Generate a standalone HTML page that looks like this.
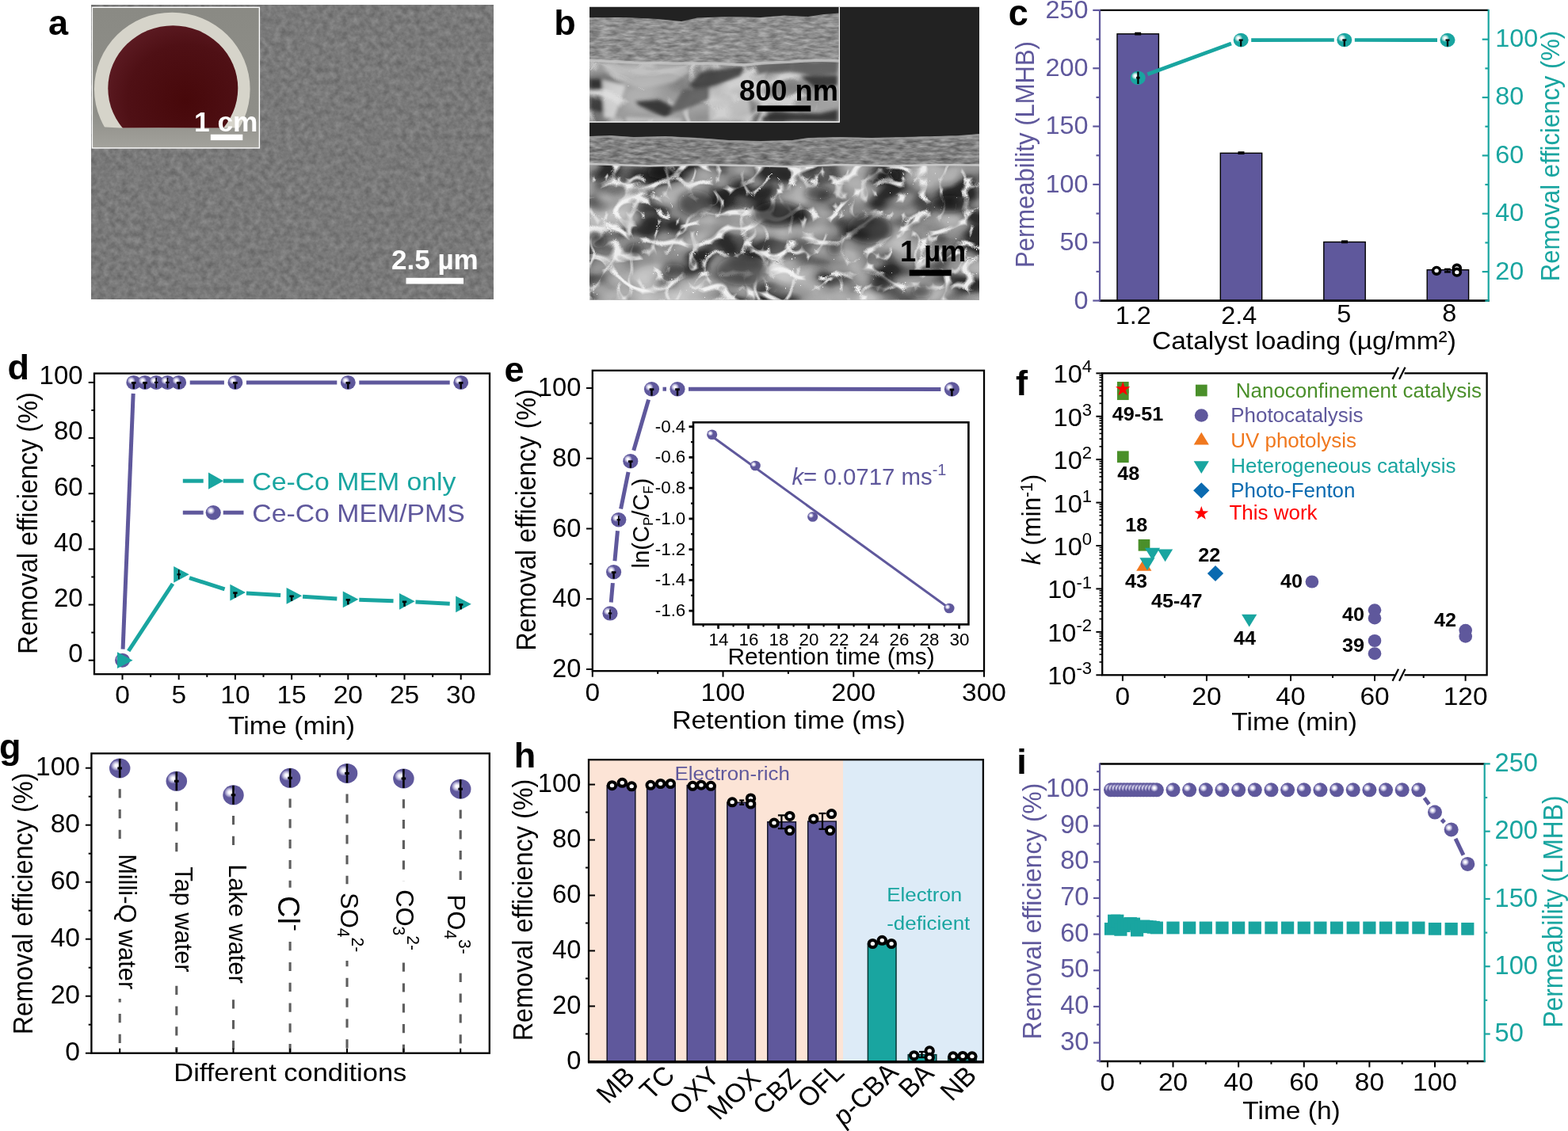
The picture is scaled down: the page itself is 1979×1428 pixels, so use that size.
<!DOCTYPE html>
<html lang="en"><head><meta charset="utf-8"><title>Figure</title>
<style>
html,body{margin:0;padding:0;background:#fff;}
body{width:1979px;height:1428px;overflow:hidden;}
svg{display:block;font-family:'Liberation Sans', Arial, sans-serif;}
</style></head><body>
<svg width="1979" height="1428" viewBox="0 0 1979 1428">

<defs>
<radialGradient id="bp" cx="0.335" cy="0.365" r="0.27" fx="0.335" fy="0.365">
 <stop offset="0" stop-color="#ffffff"/><stop offset="0.22" stop-color="#fbfbfe"/><stop offset="0.42" stop-color="#dedcef"/><stop offset="0.66" stop-color="#b3afd5"/><stop offset="0.86" stop-color="#847eb6"/><stop offset="1" stop-color="#5F589C"/>
</radialGradient>
<radialGradient id="bt" cx="0.335" cy="0.365" r="0.27" fx="0.335" fy="0.365">
 <stop offset="0" stop-color="#ffffff"/><stop offset="0.22" stop-color="#fbfefe"/><stop offset="0.42" stop-color="#d5efee"/><stop offset="0.66" stop-color="#98d6d3"/><stop offset="0.86" stop-color="#52bbb7"/><stop offset="1" stop-color="#19A5A0"/>
</radialGradient>
<radialGradient id="disc" cx="0.6" cy="0.6" r="0.75">
 <stop offset="0" stop-color="#47080a"/><stop offset="0.6" stop-color="#4f1015"/><stop offset="1" stop-color="#622029"/>
</radialGradient>
<linearGradient id="insbg" x1="0" y1="0" x2="0" y2="1">
 <stop offset="0" stop-color="#8a8a84"/><stop offset="0.75" stop-color="#8e8e88"/><stop offset="1" stop-color="#a3a29c"/>
</linearGradient>
<filter id="semA" x="0" y="0" width="100%" height="100%" color-interpolation-filters="sRGB">
 <feTurbulence type="fractalNoise" baseFrequency="0.13" numOctaves="3" seed="7" result="n"/>
 <feColorMatrix in="n" type="matrix" values="0.2 0 0 0 0.375  0.2 0 0 0 0.375  0.2 0 0 0 0.375  0 0 0 0 1"/>
</filter>
<filter id="semB" x="0" y="0" width="100%" height="100%" color-interpolation-filters="sRGB">
 <feTurbulence type="fractalNoise" baseFrequency="0.02 0.03" numOctaves="2" seed="5" result="n1"/>
 <feColorMatrix in="n1" type="matrix" values="1 0 0 0 0  1 0 0 0 0  1 0 0 0 0  0 0 0 0 1" result="g1"/>
 <feComponentTransfer in="g1" result="base">
  <feFuncR type="table" tableValues="0.1 0.12 0.14 0.18 0.34 0.52 0.6 0.68 0.72 0.75 0.78"/>
  <feFuncG type="table" tableValues="0.1 0.12 0.14 0.18 0.34 0.52 0.6 0.68 0.72 0.75 0.78"/>
  <feFuncB type="table" tableValues="0.1 0.12 0.14 0.18 0.34 0.52 0.6 0.68 0.72 0.75 0.78"/>
 </feComponentTransfer>
 <feTurbulence type="turbulence" baseFrequency="0.018 0.026" numOctaves="2" seed="23" result="n2"/>
 <feColorMatrix in="n2" type="matrix" values="0 0 0 0 0.93  0 0 0 0 0.93  0 0 0 0 0.93  -9 0 0 0 1.5" result="veins"/>
 <feTurbulence type="turbulence" baseFrequency="0.032 0.022" numOctaves="2" seed="41" result="n3"/>
 <feColorMatrix in="n3" type="matrix" values="0 0 0 0 0.82  0 0 0 0 0.82  0 0 0 0 0.82  0 -10 0 0 1.3" result="veins2"/>
 <feMerge><feMergeNode in="base"/><feMergeNode in="veins2"/><feMergeNode in="veins"/></feMerge>
</filter>
<filter id="semB2" x="0" y="0" width="100%" height="100%" color-interpolation-filters="sRGB">
 <feTurbulence type="fractalNoise" baseFrequency="0.011 0.02" numOctaves="2" seed="9" result="n1"/>
 <feColorMatrix in="n1" type="matrix" values="1 0 0 0 0  1 0 0 0 0  1 0 0 0 0  0 0 0 0 1" result="g1"/>
 <feComponentTransfer in="g1" result="base">
  <feFuncR type="table" tableValues="0.1 0.12 0.14 0.18 0.34 0.52 0.6 0.68 0.72 0.75 0.78"/>
  <feFuncG type="table" tableValues="0.1 0.12 0.14 0.18 0.34 0.52 0.6 0.68 0.72 0.75 0.78"/>
  <feFuncB type="table" tableValues="0.1 0.12 0.14 0.18 0.34 0.52 0.6 0.68 0.72 0.75 0.78"/>
 </feComponentTransfer>
 <feTurbulence type="turbulence" baseFrequency="0.009 0.016" numOctaves="2" seed="31" result="n2"/>
 <feColorMatrix in="n2" type="matrix" values="0 0 0 0 0.93  0 0 0 0 0.93  0 0 0 0 0.93  -9 0 0 0 1.5" result="veins"/>
 <feTurbulence type="turbulence" baseFrequency="0.016 0.012" numOctaves="2" seed="41" result="n3"/>
 <feColorMatrix in="n3" type="matrix" values="0 0 0 0 0.82  0 0 0 0 0.82  0 0 0 0 0.82  0 -10 0 0 1.3" result="veins2"/>
 <feMerge><feMergeNode in="base"/><feMergeNode in="veins2"/><feMergeNode in="veins"/></feMerge>
</filter>
<filter id="semC" x="0" y="0" width="100%" height="100%" color-interpolation-filters="sRGB">
 <feTurbulence type="fractalNoise" baseFrequency="0.07 0.26" numOctaves="3" seed="3" result="n"/>
 <feColorMatrix in="n" type="matrix" values="0.45 0 0 0 0.285  0.45 0 0 0 0.285  0.45 0 0 0 0.285  0 0 0 0 1" result="g"/>
 <feComposite in="g" in2="SourceAlpha" operator="in"/>
</filter>
<filter id="blur8" x="-50%" y="-50%" width="200%" height="200%"><feGaussianBlur stdDeviation="14"/></filter>
<filter id="blur5" x="-50%" y="-50%" width="200%" height="200%"><feGaussianBlur stdDeviation="4"/></filter>
<filter id="blur2" x="-20%" y="-20%" width="140%" height="140%"><feGaussianBlur stdDeviation="2.2"/></filter>
</defs>

<g id="pa">
<text transform="translate(61,43.7)" font-size="45" font-weight="bold">a</text>
<rect x="115" y="6.3" width="507.3" height="371.7" fill="#7b7b7b" filter="url(#semA)"/>
<clipPath id="insA"><rect x="116.5" y="9.4" width="210.8" height="177.4"/></clipPath>
<rect x="116.5" y="9.4" width="210.8" height="177.4" fill="url(#insbg)"/>
<g clip-path="url(#insA)">
<clipPath id="cutA"><path d="M100 0H340V160.4L290 161.6 200 161.3 152 161.6 133 160.4 100 158Z"/></clipPath>
<g clip-path="url(#cutA)">
<ellipse cx="217.3" cy="112.5" rx="98.3" ry="96.8" fill="#d6d4ca"/>
<ellipse cx="218.3" cy="111.5" rx="82" ry="79.2" fill="url(#disc)"/>
</g>
</g>
<rect x="116.4" y="9.3" width="211" height="177.6" fill="none" stroke="#fff" stroke-width="1.4"/>
<text transform="translate(245,165.8) scale(0.98,1)" font-size="36" fill="#fff" font-weight="bold">1 cm</text>
<rect x="265.8" y="169.7" width="40.5" height="7.4" fill="#fff"/>
<text transform="translate(494,339.5)" font-size="35" fill="#fff" font-weight="bold">2.5 µm</text>
<rect x="512.5" y="350.8" width="72.5" height="7.7" fill="#fff"/>
</g>
<g id="pb">
<text transform="translate(699.3,44)" font-size="45" font-weight="bold">b</text>
<rect x="744" y="8.8" width="492" height="369.6" fill="#222222"/>
<clipPath id="mainB"><rect x="744" y="8.8" width="492" height="369.6"/></clipPath>
<g clip-path="url(#mainB)">
<rect x="744" y="204" width="492" height="175" fill="#5c5c5c" filter="url(#semB)"/>
<g filter="url(#blur8)">
<ellipse cx="772" cy="267" rx="28" ry="25" fill="#fff" opacity="0.45"/>
<ellipse cx="834.5" cy="368.5" rx="90.5" ry="16.5" fill="#fff" opacity="0.45"/>
<ellipse cx="988.5" cy="331.5" rx="23.5" ry="36.5" fill="#fff" opacity="0.35"/>
<ellipse cx="1118" cy="376" rx="118" ry="14" fill="#fff" opacity="0.3"/>
<ellipse cx="1147.5" cy="290" rx="27.5" ry="22" fill="#fff" opacity="0.25"/>
</g>
<g filter="url(#blur5)">
<ellipse cx="836.5" cy="217.5" rx="20.5" ry="8.5" fill="#111" opacity="0.6"/>
<ellipse cx="878" cy="256.5" rx="22" ry="16.5" fill="#111" opacity="0.55"/>
<ellipse cx="981.5" cy="270" rx="31.5" ry="16" fill="#111" opacity="0.7"/>
<ellipse cx="1097" cy="289" rx="28" ry="19" fill="#111" opacity="0.65"/>
<ellipse cx="1199" cy="257.5" rx="24" ry="10.5" fill="#111" opacity="0.65"/>
<ellipse cx="937" cy="341.5" rx="33" ry="19.5" fill="#111" opacity="0.55"/>
<ellipse cx="1114.5" cy="221.5" rx="20.5" ry="9.5" fill="#111" opacity="0.45"/>
<ellipse cx="801.5" cy="315" rx="10.5" ry="8" fill="#111" opacity="0.6"/>
<ellipse cx="754.5" cy="304" rx="10.5" ry="9" fill="#111" opacity="0.55"/>
<ellipse cx="850.5" cy="341.5" rx="14.5" ry="9.5" fill="#111" opacity="0.45"/>
<ellipse cx="1053.5" cy="314" rx="9.5" ry="9" fill="#111" opacity="0.55"/>
<ellipse cx="1112.5" cy="355.5" rx="13.5" ry="12.5" fill="#111" opacity="0.6"/>
<ellipse cx="1163" cy="368" rx="13" ry="8" fill="#111" opacity="0.55"/>
<ellipse cx="1032.5" cy="244" rx="17.5" ry="8" fill="#111" opacity="0.5"/>
<ellipse cx="935" cy="231" rx="15" ry="9" fill="#111" opacity="0.4"/>
</g>
<path d="M744 172 L770 171 800 173 840 172 880 174 920 177 960 178 1000 177 1020 174 1060 173 1100 174 1140 173 1180 172 1210 171 1236 169 V209 L1180 208 1120 210 1060 208 1000 211 940 209 880 208 820 210 744 207Z" fill="#808080" filter="url(#semC)"/>
<path d="M744 173.5 L770 172.5 800 174.5 840 173.5 880 175.5 920 178.5 960 179.5 1000 178.5 1020 175.5 1060 174.5 1100 175.5 1140 174.5 1180 173.5 1210 172.5 1236 170.5" fill="none" stroke="#a0a0a0" stroke-width="2.5" opacity="0.7"/>
<path d="M744 207 L820 209.5 880 208 940 209 1000 210.5 1060 208 1120 209.5 1180 208 1236 208.5" fill="none" stroke="#cfcfcf" stroke-width="2.6" opacity="0.85"/>
</g>
<clipPath id="insB"><rect x="744" y="8.8" width="314.6" height="144.6"/></clipPath>
<g clip-path="url(#insB)">
<rect x="744" y="8.8" width="315" height="145" fill="#222222"/>
<rect x="744" y="72" width="316" height="83" fill="#5c5c5c" filter="url(#semB2)"/>
<rect x="744" y="72" width="316" height="83" fill="#b0b0b0" opacity="0.45"/>
<g filter="url(#blur2)" opacity="0.88">
<path d="M760 84L800 80L860 80L872 90L850 104L810 112L790 106L770 96Z" fill="#bdbdbd" opacity="0.9"/>
<path d="M869.3 108.3L884.3 90.7L939.5 83.2L934.5 95.7L904.4 108.3L879.3 113.3Z" fill="#3a3a3a" opacity="1"/>
<path d="M952 83.2L969.6 75.7L994.6 74.4L1027.2 78.2L1057.3 74.4L1057.3 93.2L1027.2 95.7L994.6 90.7L957 93.2Z" fill="#5a5a5a" opacity="1"/>
<path d="M744 99.5L766.6 100.7L769 110.8L744 113.3Z" fill="#2a2a2a" opacity="1"/>
<path d="M801.6 128.3L831.7 125.8L856.8 138.3L839.2 148.4L806.7 133.3Z" fill="#2a2a2a" opacity="1"/>
<path d="M744 120.8L764 128.3L766.6 143.3L744 138.3Z" fill="#353535" opacity="1"/>
<path d="M962 148.4L977 140.8L1034.7 143.3L1057.3 138.3L1057.3 153.4L962 153.4Z" fill="#2a2a2a" opacity="1"/>
<path d="M861.8 112.8L899.4 110.3L894.4 125.8L864.3 138.3L844.2 143.3Z" fill="#5a5a5a" opacity="1"/>
<path d="M1010 96L1057 95L1057 108L1030 112Z" fill="#2e2e2e" opacity="1"/>
<path d="M760 100L790 108L775 150L762 148Z" fill="#e0e0e0" opacity="0.9"/>
<path d="M895 112L940 100L950 153L895 153Z" fill="#d0d0d0" opacity="0.85"/>
<path d="M790 148L860 150L860 154L790 154Z" fill="#cfcfcf" opacity="0.9"/>
</g>
<path d="M744 22 L790 22 830 24 860 27 880 22.5 920 21 960 22 990 19.5 1020 21 1040 18 1059 16.5 V77 L1030 76 1000 78 960 80 940 82 900 80 850 80 800 79 744 76Z" fill="#8e8e8e" filter="url(#semC)"/>
<path d="M744 22 L790 22 830 24 860 27 880 22.5 920 21 960 22 990 19.5 1020 21 1040 18 1059 16.5 V77 L1030 76 1000 78 960 80 940 82 900 80 850 80 800 79 744 76Z" fill="#fff" opacity="0.1"/>
<path d="M744 76 L800 79 850 80 900 80 940 82 960 80 1000 78 1030 76 1059 77" fill="none" stroke="#c8c8c8" stroke-width="3.5" opacity="0.8"/>
</g>
<path d="M744 154 H1059.3 V8.8" fill="none" stroke="#fff" stroke-width="1.3"/>
<text transform="translate(933,126.7) scale(0.98,1)" font-size="37" font-weight="bold">800 nm</text>
<rect x="955.7" y="133.3" width="67.6" height="7.4" fill="#000"/>
<text transform="translate(1136,330) scale(0.98,1)" font-size="37" font-weight="bold">1 µm</text>
<rect x="1147.7" y="340.7" width="53" height="7.6" fill="#000"/>
</g>
<g id="pc">
<text transform="translate(1272.7,32.2) scale(1,1.03)" font-size="45" font-weight="bold">c</text>
<rect x="1410" y="42.82" width="52.4" height="336.78" fill="#5F589C" stroke="#000" stroke-width="1.4"/>
<rect x="1540.3" y="193.32" width="52.4" height="186.28" fill="#5F589C" stroke="#000" stroke-width="1.4"/>
<rect x="1670.8" y="305.53" width="52.4" height="74.07" fill="#5F589C" stroke="#000" stroke-width="1.4"/>
<rect x="1801.2" y="340.73" width="52.4" height="38.87" fill="#5F589C" stroke="#000" stroke-width="1.4"/>
<line x1="1432.2" y1="42.62" x2="1440.2" y2="42.62" stroke="#000" stroke-width="3.8"/>
<line x1="1562.5" y1="193.12" x2="1570.5" y2="193.12" stroke="#000" stroke-width="3.8"/>
<line x1="1693" y1="305.33" x2="1701" y2="305.33" stroke="#000" stroke-width="3.8"/>
<line x1="1388" y1="12.9" x2="1878.7" y2="12.9" stroke="#000" stroke-width="2.2"/>
<line x1="1387" y1="379.6" x2="1879.7" y2="379.6" stroke="#000" stroke-width="2.6"/>
<line x1="1388" y1="11.9" x2="1388" y2="380.6" stroke="#5F589C" stroke-width="2.2"/>
<line x1="1878.7" y1="11.9" x2="1878.7" y2="380.6" stroke="#19A5A0" stroke-width="2.2"/>
<line x1="1379.3" y1="379.6" x2="1388" y2="379.6" stroke="#5F589C" stroke-width="2.2"/>
<text transform="translate(1373.5,389.5) scale(1.08,1.03)" font-size="30" text-anchor="end" fill="#5F589C">0</text>
<line x1="1383.5" y1="342.93" x2="1388" y2="342.93" stroke="#5F589C" stroke-width="2.2"/>
<line x1="1379.3" y1="306.26" x2="1388" y2="306.26" stroke="#5F589C" stroke-width="2.2"/>
<text transform="translate(1373.5,316.16) scale(1.08,1.03)" font-size="30" text-anchor="end" fill="#5F589C">50</text>
<line x1="1383.5" y1="269.59" x2="1388" y2="269.59" stroke="#5F589C" stroke-width="2.2"/>
<line x1="1379.3" y1="232.92" x2="1388" y2="232.92" stroke="#5F589C" stroke-width="2.2"/>
<text transform="translate(1373.5,242.82) scale(1.08,1.03)" font-size="30" text-anchor="end" fill="#5F589C">100</text>
<line x1="1383.5" y1="196.25" x2="1388" y2="196.25" stroke="#5F589C" stroke-width="2.2"/>
<line x1="1379.3" y1="159.58" x2="1388" y2="159.58" stroke="#5F589C" stroke-width="2.2"/>
<text transform="translate(1373.5,169.48) scale(1.08,1.03)" font-size="30" text-anchor="end" fill="#5F589C">150</text>
<line x1="1383.5" y1="122.91" x2="1388" y2="122.91" stroke="#5F589C" stroke-width="2.2"/>
<line x1="1379.3" y1="86.24" x2="1388" y2="86.24" stroke="#5F589C" stroke-width="2.2"/>
<text transform="translate(1373.5,96.14) scale(1.08,1.03)" font-size="30" text-anchor="end" fill="#5F589C">200</text>
<line x1="1383.5" y1="49.57" x2="1388" y2="49.57" stroke="#5F589C" stroke-width="2.2"/>
<line x1="1379.3" y1="12.9" x2="1388" y2="12.9" stroke="#5F589C" stroke-width="2.2"/>
<text transform="translate(1373.5,22.8) scale(1.08,1.03)" font-size="30" text-anchor="end" fill="#5F589C">250</text>
<line x1="1874.4" y1="379.77" x2="1878.7" y2="379.77" stroke="#19A5A0" stroke-width="2.2"/>
<line x1="1870.7" y1="343.1" x2="1878.7" y2="343.1" stroke="#19A5A0" stroke-width="2.2"/>
<text transform="translate(1887.3,352.5) scale(1.08,1.03)" font-size="30" fill="#19A5A0">20</text>
<line x1="1874.4" y1="306.43" x2="1878.7" y2="306.43" stroke="#19A5A0" stroke-width="2.2"/>
<line x1="1870.7" y1="269.75" x2="1878.7" y2="269.75" stroke="#19A5A0" stroke-width="2.2"/>
<text transform="translate(1887.3,279.15) scale(1.08,1.03)" font-size="30" fill="#19A5A0">40</text>
<line x1="1874.4" y1="233.07" x2="1878.7" y2="233.07" stroke="#19A5A0" stroke-width="2.2"/>
<line x1="1870.7" y1="196.4" x2="1878.7" y2="196.4" stroke="#19A5A0" stroke-width="2.2"/>
<text transform="translate(1887.3,205.8) scale(1.08,1.03)" font-size="30" fill="#19A5A0">60</text>
<line x1="1874.4" y1="159.73" x2="1878.7" y2="159.73" stroke="#19A5A0" stroke-width="2.2"/>
<line x1="1870.7" y1="123.05" x2="1878.7" y2="123.05" stroke="#19A5A0" stroke-width="2.2"/>
<text transform="translate(1887.3,132.45) scale(1.08,1.03)" font-size="30" fill="#19A5A0">80</text>
<line x1="1874.4" y1="86.38" x2="1878.7" y2="86.38" stroke="#19A5A0" stroke-width="2.2"/>
<line x1="1870.7" y1="49.7" x2="1878.7" y2="49.7" stroke="#19A5A0" stroke-width="2.2"/>
<text transform="translate(1887.3,59.1) scale(1.08,1.03)" font-size="30" fill="#19A5A0">100</text>
<line x1="1448.41" y1="93.73" x2="1553.99" y2="55.07" stroke="#19A5A0" stroke-width="4.7"/><line x1="1579.2" y1="50.59" x2="1683.8" y2="50.51" stroke="#19A5A0" stroke-width="4.7"/><line x1="1709.8" y1="50.51" x2="1814" y2="50.59" stroke="#19A5A0" stroke-width="4.7"/>
<ellipse cx="1436.2" cy="98.2" rx="9.5" ry="8.8" fill="url(#bt)"/>
<ellipse cx="1566.2" cy="50.6" rx="9.5" ry="8.8" fill="url(#bt)"/>
<ellipse cx="1696.8" cy="50.5" rx="9.5" ry="8.8" fill="url(#bt)"/>
<ellipse cx="1827" cy="50.6" rx="9.5" ry="8.8" fill="url(#bt)"/>
<line x1="1436.4" y1="90.5" x2="1436.4" y2="106" stroke="#000" stroke-width="2.2"/>
<line x1="1434.2" y1="98.2" x2="1438.6" y2="98.2" stroke="#000" stroke-width="2.8"/>
<line x1="1566.2" y1="50.6" x2="1566.2" y2="58.6" stroke="#000" stroke-width="2.2"/>
<line x1="1563.7" y1="50.6" x2="1568.7" y2="50.6" stroke="#000" stroke-width="2.2"/>
<line x1="1696.8" y1="50.5" x2="1696.8" y2="58.5" stroke="#000" stroke-width="2.2"/>
<line x1="1694.3" y1="50.5" x2="1699.3" y2="50.5" stroke="#000" stroke-width="2.2"/>
<line x1="1827" y1="50.6" x2="1827" y2="58.6" stroke="#000" stroke-width="2.2"/>
<line x1="1824.5" y1="50.6" x2="1829.5" y2="50.6" stroke="#000" stroke-width="2.2"/>
<line x1="1826.8" y1="339.9" x2="1826.8" y2="343.2" stroke="#000" stroke-width="1.4"/>
<line x1="1823" y1="339.9" x2="1830.8" y2="339.9" stroke="#000" stroke-width="2.4"/>
<line x1="1823" y1="343.4" x2="1830.8" y2="343.4" stroke="#000" stroke-width="2.4"/>
<ellipse cx="1813.1" cy="341.8" rx="4.51" ry="4.3" fill="#fff" stroke="#000" stroke-width="3.6"/>
<ellipse cx="1838.8" cy="338.7" rx="4.51" ry="4.3" fill="#fff" stroke="#000" stroke-width="3.6"/>
<ellipse cx="1838.8" cy="343.7" rx="4.51" ry="4.3" fill="#fff" stroke="#000" stroke-width="3.6"/>
<text transform="translate(1430.3,408.7) scale(1.08,1.03)" font-size="30" text-anchor="middle">1.2</text>
<text transform="translate(1563.7,408.7) scale(1.08,1.03)" font-size="30" text-anchor="middle">2.4</text>
<text transform="translate(1696.3,406.6) scale(1.08,1.03)" font-size="30" text-anchor="middle">5</text>
<text transform="translate(1829.3,405.9) scale(1.08,1.03)" font-size="30" text-anchor="middle">8</text>
<text transform="translate(1646,441) scale(1.08,1.03)" font-size="31" text-anchor="middle">Catalyst loading (µg/mm²)</text>
<text transform="translate(1305,195) rotate(-90) scale(1,1.08)" font-size="31" text-anchor="middle" fill="#5F589C">Permeability (LMHB)</text>
<text transform="translate(1968,197) rotate(-90) scale(1,1.08)" font-size="31" text-anchor="middle" fill="#19A5A0">Removal efficiency (%)</text>
</g>
<g id="pd">
<text transform="translate(9.5,479.2)" font-size="45" font-weight="bold">d</text>
<rect x="119" y="471.5" width="499" height="379.7" fill="none" stroke="#000" stroke-width="2.3"/>
<line x1="111.7" y1="833.7" x2="119" y2="833.7" stroke="#000" stroke-width="2"/>
<text transform="translate(104.6,836.1) scale(1.05,1.03)" font-size="31.4" text-anchor="end">0</text>
<line x1="115.3" y1="798.62" x2="119" y2="798.62" stroke="#000" stroke-width="2"/>
<line x1="111.7" y1="763.54" x2="119" y2="763.54" stroke="#000" stroke-width="2"/>
<text transform="translate(104.6,765.94) scale(1.05,1.03)" font-size="31.4" text-anchor="end">20</text>
<line x1="115.3" y1="728.46" x2="119" y2="728.46" stroke="#000" stroke-width="2"/>
<line x1="111.7" y1="693.38" x2="119" y2="693.38" stroke="#000" stroke-width="2"/>
<text transform="translate(104.6,695.78) scale(1.05,1.03)" font-size="31.4" text-anchor="end">40</text>
<line x1="115.3" y1="658.3" x2="119" y2="658.3" stroke="#000" stroke-width="2"/>
<line x1="111.7" y1="623.22" x2="119" y2="623.22" stroke="#000" stroke-width="2"/>
<text transform="translate(104.6,625.62) scale(1.05,1.03)" font-size="31.4" text-anchor="end">60</text>
<line x1="115.3" y1="588.14" x2="119" y2="588.14" stroke="#000" stroke-width="2"/>
<line x1="111.7" y1="553.06" x2="119" y2="553.06" stroke="#000" stroke-width="2"/>
<text transform="translate(104.6,555.46) scale(1.05,1.03)" font-size="31.4" text-anchor="end">80</text>
<line x1="115.3" y1="517.98" x2="119" y2="517.98" stroke="#000" stroke-width="2"/>
<line x1="111.7" y1="482.9" x2="119" y2="482.9" stroke="#000" stroke-width="2"/>
<text transform="translate(104.6,485.3) scale(1.05,1.03)" font-size="31.4" text-anchor="end">100</text>
<line x1="154.5" y1="851.2" x2="154.5" y2="858.2" stroke="#000" stroke-width="2"/>
<text transform="translate(154.5,888.3) scale(1.08,1.03)" font-size="31" text-anchor="middle">0</text>
<line x1="190.1" y1="851.2" x2="190.1" y2="854.9" stroke="#000" stroke-width="2"/>
<line x1="225.7" y1="851.2" x2="225.7" y2="858.2" stroke="#000" stroke-width="2"/>
<text transform="translate(225.7,888.3) scale(1.08,1.03)" font-size="31" text-anchor="middle">5</text>
<line x1="261.3" y1="851.2" x2="261.3" y2="854.9" stroke="#000" stroke-width="2"/>
<line x1="296.9" y1="851.2" x2="296.9" y2="858.2" stroke="#000" stroke-width="2"/>
<text transform="translate(296.9,888.3) scale(1.08,1.03)" font-size="31" text-anchor="middle">10</text>
<line x1="332.5" y1="851.2" x2="332.5" y2="854.9" stroke="#000" stroke-width="2"/>
<line x1="368.1" y1="851.2" x2="368.1" y2="858.2" stroke="#000" stroke-width="2"/>
<text transform="translate(368.1,888.3) scale(1.08,1.03)" font-size="31" text-anchor="middle">15</text>
<line x1="403.7" y1="851.2" x2="403.7" y2="854.9" stroke="#000" stroke-width="2"/>
<line x1="439.3" y1="851.2" x2="439.3" y2="858.2" stroke="#000" stroke-width="2"/>
<text transform="translate(439.3,888.3) scale(1.08,1.03)" font-size="31" text-anchor="middle">20</text>
<line x1="474.9" y1="851.2" x2="474.9" y2="854.9" stroke="#000" stroke-width="2"/>
<line x1="510.5" y1="851.2" x2="510.5" y2="858.2" stroke="#000" stroke-width="2"/>
<text transform="translate(510.5,888.3) scale(1.08,1.03)" font-size="31" text-anchor="middle">25</text>
<line x1="546.1" y1="851.2" x2="546.1" y2="854.9" stroke="#000" stroke-width="2"/>
<line x1="581.7" y1="851.2" x2="581.7" y2="858.2" stroke="#000" stroke-width="2"/>
<text transform="translate(581.7,888.3) scale(1.08,1.03)" font-size="31" text-anchor="middle">30</text>
<text transform="translate(368,926.5) scale(1.09,1.03)" font-size="31" text-anchor="middle">Time (min)</text>
<text transform="translate(47.3,660.6) rotate(-90) scale(1,1.07)" font-size="32.4" text-anchor="middle">Removal efficiency (%)</text>
<line x1="155.07" y1="819.71" x2="168.17" y2="496.89" stroke="#5F589C" stroke-width="5"/><line x1="239.7" y1="482.9" x2="282.9" y2="482.9" stroke="#5F589C" stroke-width="5"/><line x1="310.9" y1="482.9" x2="425.3" y2="482.9" stroke="#5F589C" stroke-width="5"/><line x1="453.3" y1="482.9" x2="567.7" y2="482.9" stroke="#5F589C" stroke-width="5"/>
<line x1="162.19" y1="822" x2="218.01" y2="737" stroke="#19A5A0" stroke-width="5"/><line x1="239.03" y1="729.57" x2="283.57" y2="743.83" stroke="#19A5A0" stroke-width="5"/><line x1="310.88" y1="748.93" x2="354.12" y2="751.49" stroke="#19A5A0" stroke-width="5"/><line x1="382.07" y1="753.21" x2="425.33" y2="755.98" stroke="#19A5A0" stroke-width="5"/><line x1="453.29" y1="757.36" x2="496.51" y2="758.85" stroke="#19A5A0" stroke-width="5"/><line x1="524.48" y1="760.02" x2="567.72" y2="762.15" stroke="#19A5A0" stroke-width="5"/>
<ellipse cx="154.5" cy="833.7" rx="9.45" ry="9" fill="url(#bp)"/>
<ellipse cx="168.74" cy="482.9" rx="9.45" ry="9" fill="url(#bp)"/>
<ellipse cx="182.98" cy="482.9" rx="9.45" ry="9" fill="url(#bp)"/>
<ellipse cx="197.22" cy="482.9" rx="9.45" ry="9" fill="url(#bp)"/>
<ellipse cx="211.46" cy="482.9" rx="9.45" ry="9" fill="url(#bp)"/>
<ellipse cx="225.7" cy="482.9" rx="9.45" ry="9" fill="url(#bp)"/>
<ellipse cx="296.9" cy="482.9" rx="9.45" ry="9" fill="url(#bp)"/>
<ellipse cx="439.3" cy="482.9" rx="9.45" ry="9" fill="url(#bp)"/>
<ellipse cx="581.7" cy="482.9" rx="9.45" ry="9" fill="url(#bp)"/>
<path d="M147.97 823.3L167.57 833.7L147.97 844.1Z" fill="#19A5A0"/>
<path d="M219.17 714.9L238.77 725.3L219.17 735.7Z" fill="#19A5A0"/>
<path d="M290.37 737.7L309.97 748.1L290.37 758.5Z" fill="#19A5A0"/>
<path d="M361.57 741.91L381.17 752.31L361.57 762.71Z" fill="#19A5A0"/>
<path d="M432.77 746.47L452.37 756.87L432.77 767.27Z" fill="#19A5A0"/>
<path d="M503.97 748.93L523.57 759.33L503.97 769.73Z" fill="#19A5A0"/>
<path d="M575.17 752.44L594.77 762.84L575.17 773.24Z" fill="#19A5A0"/>
<line x1="168.74" y1="482.9" x2="168.74" y2="490.9" stroke="#000" stroke-width="2.4"/>
<line x1="165.94" y1="483.4" x2="171.54" y2="483.4" stroke="#000" stroke-width="2.8"/>
<line x1="182.98" y1="482.9" x2="182.98" y2="490.9" stroke="#000" stroke-width="2.4"/>
<line x1="180.18" y1="483.4" x2="185.78" y2="483.4" stroke="#000" stroke-width="2.8"/>
<line x1="197.22" y1="476.9" x2="197.22" y2="489.9" stroke="#000" stroke-width="1.6"/>
<line x1="195.02" y1="482.9" x2="199.42" y2="482.9" stroke="#000" stroke-width="2.2"/>
<line x1="211.46" y1="476.9" x2="211.46" y2="489.9" stroke="#000" stroke-width="1.6"/>
<line x1="209.26" y1="482.9" x2="213.66" y2="482.9" stroke="#000" stroke-width="2.2"/>
<line x1="225.7" y1="482.9" x2="225.7" y2="490.9" stroke="#000" stroke-width="2.4"/>
<line x1="222.9" y1="483.4" x2="228.5" y2="483.4" stroke="#000" stroke-width="2.8"/>
<line x1="296.9" y1="482.9" x2="296.9" y2="490.9" stroke="#000" stroke-width="2.4"/>
<line x1="294.1" y1="483.4" x2="299.7" y2="483.4" stroke="#000" stroke-width="2.8"/>
<line x1="439.3" y1="482.9" x2="439.3" y2="490.9" stroke="#000" stroke-width="2.4"/>
<line x1="436.5" y1="483.4" x2="442.1" y2="483.4" stroke="#000" stroke-width="2.8"/>
<line x1="581.7" y1="482.9" x2="581.7" y2="490.9" stroke="#000" stroke-width="2.4"/>
<line x1="578.9" y1="483.4" x2="584.5" y2="483.4" stroke="#000" stroke-width="2.8"/>
<line x1="225.7" y1="719.3" x2="225.7" y2="731.3" stroke="#000" stroke-width="1.6"/>
<line x1="223.5" y1="725.3" x2="227.9" y2="725.3" stroke="#000" stroke-width="2.2"/>
<line x1="296.9" y1="748.1" x2="296.9" y2="754.6" stroke="#000" stroke-width="2.4"/>
<line x1="294.2" y1="748.6" x2="299.6" y2="748.6" stroke="#000" stroke-width="2.6"/>
<line x1="368.1" y1="752.31" x2="368.1" y2="758.81" stroke="#000" stroke-width="2.4"/>
<line x1="365.4" y1="752.81" x2="370.8" y2="752.81" stroke="#000" stroke-width="2.6"/>
<line x1="439.3" y1="756.87" x2="439.3" y2="763.37" stroke="#000" stroke-width="2.4"/>
<line x1="436.6" y1="757.37" x2="442" y2="757.37" stroke="#000" stroke-width="2.6"/>
<line x1="510.5" y1="759.33" x2="510.5" y2="765.83" stroke="#000" stroke-width="2.4"/>
<line x1="507.8" y1="759.83" x2="513.2" y2="759.83" stroke="#000" stroke-width="2.6"/>
<line x1="581.7" y1="762.84" x2="581.7" y2="769.34" stroke="#000" stroke-width="2.4"/>
<line x1="579" y1="763.34" x2="584.4" y2="763.34" stroke="#000" stroke-width="2.6"/>
<line x1="230.8" y1="607.2" x2="256.7" y2="607.2" stroke="#19A5A0" stroke-width="5"/>
<line x1="281.7" y1="607.2" x2="307.5" y2="607.2" stroke="#19A5A0" stroke-width="5"/>
<line x1="230.8" y1="647.2" x2="256.7" y2="647.2" stroke="#5F589C" stroke-width="5"/>
<line x1="281.7" y1="647.2" x2="307.5" y2="647.2" stroke="#5F589C" stroke-width="5"/>
<path d="M262.97 596.55L281.97 607.2L262.97 617.85Z" fill="#19A5A0"/>
<ellipse cx="269.2" cy="647.2" rx="9.57" ry="9.2" fill="url(#bp)"/>
<text transform="translate(318.3,619.4) scale(1.09,1.03)" font-size="31" fill="#19A5A0">Ce-Co MEM only</text>
<text transform="translate(318.3,658.6) scale(1.09,1.03)" font-size="31" fill="#5F589C">Ce-Co MEM/PMS</text>
</g>
<g id="pe">
<text transform="translate(636.5,481.5)" font-size="45" font-weight="bold">e</text>
<rect x="747.8" y="467.8" width="494.2" height="379.4" fill="none" stroke="#000" stroke-width="2.3"/>
<line x1="740" y1="845" x2="747.8" y2="845" stroke="#000" stroke-width="2"/>
<text transform="translate(733.3,855) scale(1.04,1.03)" font-size="31.4" text-anchor="end">20</text>
<line x1="744.1" y1="800.62" x2="747.8" y2="800.62" stroke="#000" stroke-width="2"/>
<line x1="740" y1="756.25" x2="747.8" y2="756.25" stroke="#000" stroke-width="2"/>
<text transform="translate(733.3,766.25) scale(1.04,1.03)" font-size="31.4" text-anchor="end">40</text>
<line x1="744.1" y1="711.88" x2="747.8" y2="711.88" stroke="#000" stroke-width="2"/>
<line x1="740" y1="667.5" x2="747.8" y2="667.5" stroke="#000" stroke-width="2"/>
<text transform="translate(733.3,677.5) scale(1.04,1.03)" font-size="31.4" text-anchor="end">60</text>
<line x1="744.1" y1="623.12" x2="747.8" y2="623.12" stroke="#000" stroke-width="2"/>
<line x1="740" y1="578.75" x2="747.8" y2="578.75" stroke="#000" stroke-width="2"/>
<text transform="translate(733.3,588.75) scale(1.04,1.03)" font-size="31.4" text-anchor="end">80</text>
<line x1="744.1" y1="534.38" x2="747.8" y2="534.38" stroke="#000" stroke-width="2"/>
<line x1="740" y1="490" x2="747.8" y2="490" stroke="#000" stroke-width="2"/>
<text transform="translate(733.3,500) scale(1.04,1.03)" font-size="31.4" text-anchor="end">100</text>
<line x1="747.8" y1="847.2" x2="747.8" y2="854.7" stroke="#000" stroke-width="2"/>
<text transform="translate(747.8,884.7) scale(1.08,1.03)" font-size="31" text-anchor="middle">0</text>
<line x1="830.17" y1="847.2" x2="830.17" y2="850.9" stroke="#000" stroke-width="2"/>
<line x1="912.53" y1="847.2" x2="912.53" y2="854.7" stroke="#000" stroke-width="2"/>
<text transform="translate(912.53,884.7) scale(1.08,1.03)" font-size="31" text-anchor="middle">100</text>
<line x1="994.9" y1="847.2" x2="994.9" y2="850.9" stroke="#000" stroke-width="2"/>
<line x1="1077.27" y1="847.2" x2="1077.27" y2="854.7" stroke="#000" stroke-width="2"/>
<text transform="translate(1077.27,884.7) scale(1.08,1.03)" font-size="31" text-anchor="middle">200</text>
<line x1="1159.63" y1="847.2" x2="1159.63" y2="850.9" stroke="#000" stroke-width="2"/>
<line x1="1242" y1="847.2" x2="1242" y2="854.7" stroke="#000" stroke-width="2"/>
<text transform="translate(1242,884.7) scale(1.08,1.03)" font-size="31" text-anchor="middle">300</text>
<text transform="translate(995.5,919.5) scale(1.09,1.03)" font-size="31" text-anchor="middle">Retention time (ms)</text>
<text transform="translate(675.5,656.5) rotate(-90) scale(1,1.07)" font-size="32.4" text-anchor="middle">Removal efficiency (%)</text>
<line x1="771.23" y1="760.45" x2="773.37" y2="736.15" stroke="#5F589C" stroke-width="5"/><line x1="775.91" y1="708.26" x2="779.49" y2="670.24" stroke="#5F589C" stroke-width="5"/><line x1="783.58" y1="642.58" x2="793.02" y2="595.92" stroke="#5F589C" stroke-width="5"/><line x1="799.74" y1="568.77" x2="818.56" y2="504.63" stroke="#5F589C" stroke-width="5"/><line x1="836.5" y1="491.2" x2="841" y2="491.2" stroke="#5F589C" stroke-width="5"/><line x1="869" y1="491.21" x2="1187.4" y2="491.49" stroke="#5F589C" stroke-width="5"/>
<ellipse cx="770" cy="774.4" rx="9.57" ry="9.2" fill="url(#bp)"/>
<ellipse cx="774.6" cy="722.2" rx="9.57" ry="9.2" fill="url(#bp)"/>
<ellipse cx="780.8" cy="656.3" rx="9.57" ry="9.2" fill="url(#bp)"/>
<ellipse cx="795.8" cy="582.2" rx="9.57" ry="9.2" fill="url(#bp)"/>
<ellipse cx="822.5" cy="491.2" rx="9.57" ry="9.2" fill="url(#bp)"/>
<ellipse cx="855" cy="491.2" rx="9.57" ry="9.2" fill="url(#bp)"/>
<ellipse cx="1201.4" cy="491.5" rx="9.57" ry="9.2" fill="url(#bp)"/>
<line x1="770" y1="769.4" x2="770" y2="781.4" stroke="#000" stroke-width="1.6"/>
<line x1="767.8" y1="774.4" x2="772.2" y2="774.4" stroke="#000" stroke-width="2.2"/>
<line x1="774.6" y1="722.2" x2="774.6" y2="730.7" stroke="#000" stroke-width="2.4"/>
<line x1="771.8" y1="722.7" x2="777.4" y2="722.7" stroke="#000" stroke-width="2.8"/>
<line x1="780.8" y1="651.3" x2="780.8" y2="663.3" stroke="#000" stroke-width="1.6"/>
<line x1="778.6" y1="656.3" x2="783" y2="656.3" stroke="#000" stroke-width="2.2"/>
<line x1="795.8" y1="582.2" x2="795.8" y2="590.7" stroke="#000" stroke-width="2.4"/>
<line x1="793" y1="582.7" x2="798.6" y2="582.7" stroke="#000" stroke-width="2.8"/>
<line x1="822.5" y1="491.2" x2="822.5" y2="499.7" stroke="#000" stroke-width="2.4"/>
<line x1="819.7" y1="491.7" x2="825.3" y2="491.7" stroke="#000" stroke-width="2.8"/>
<line x1="855" y1="491.2" x2="855" y2="499.7" stroke="#000" stroke-width="2.4"/>
<line x1="852.2" y1="491.7" x2="857.8" y2="491.7" stroke="#000" stroke-width="2.8"/>
<line x1="1201.4" y1="491.5" x2="1201.4" y2="500" stroke="#000" stroke-width="2.4"/>
<line x1="1198.6" y1="492" x2="1204.2" y2="492" stroke="#000" stroke-width="2.8"/>
<rect x="875" y="533.3" width="347.4" height="255.1" fill="#fff" stroke="#000" stroke-width="2.6"/>
<line x1="869.5" y1="538.7" x2="875" y2="538.7" stroke="#000" stroke-width="2.8"/>
<text transform="translate(865.3,545.7) scale(1.04,1.03)" font-size="21.5" text-anchor="end">-0.4</text>
<line x1="872" y1="558.08" x2="875" y2="558.08" stroke="#000" stroke-width="2.2"/>
<line x1="869.5" y1="577.45" x2="875" y2="577.45" stroke="#000" stroke-width="2.8"/>
<text transform="translate(865.3,584.45) scale(1.04,1.03)" font-size="21.5" text-anchor="end">-0.6</text>
<line x1="872" y1="596.83" x2="875" y2="596.83" stroke="#000" stroke-width="2.2"/>
<line x1="869.5" y1="616.2" x2="875" y2="616.2" stroke="#000" stroke-width="2.8"/>
<text transform="translate(865.3,623.2) scale(1.04,1.03)" font-size="21.5" text-anchor="end">-0.8</text>
<line x1="872" y1="635.58" x2="875" y2="635.58" stroke="#000" stroke-width="2.2"/>
<line x1="869.5" y1="654.95" x2="875" y2="654.95" stroke="#000" stroke-width="2.8"/>
<text transform="translate(865.3,661.95) scale(1.04,1.03)" font-size="21.5" text-anchor="end">-1.0</text>
<line x1="872" y1="674.33" x2="875" y2="674.33" stroke="#000" stroke-width="2.2"/>
<line x1="869.5" y1="693.7" x2="875" y2="693.7" stroke="#000" stroke-width="2.8"/>
<text transform="translate(865.3,700.7) scale(1.04,1.03)" font-size="21.5" text-anchor="end">-1.2</text>
<line x1="872" y1="713.08" x2="875" y2="713.08" stroke="#000" stroke-width="2.2"/>
<line x1="869.5" y1="732.45" x2="875" y2="732.45" stroke="#000" stroke-width="2.8"/>
<text transform="translate(865.3,739.45) scale(1.04,1.03)" font-size="21.5" text-anchor="end">-1.4</text>
<line x1="872" y1="751.83" x2="875" y2="751.83" stroke="#000" stroke-width="2.2"/>
<line x1="869.5" y1="771.2" x2="875" y2="771.2" stroke="#000" stroke-width="2.8"/>
<text transform="translate(865.3,778.2) scale(1.04,1.03)" font-size="21.5" text-anchor="end">-1.6</text>
<line x1="887.6" y1="788.4" x2="887.6" y2="791.4" stroke="#000" stroke-width="2.2"/>
<line x1="906.6" y1="788.4" x2="906.6" y2="793.9" stroke="#000" stroke-width="2.8"/>
<text transform="translate(906.9,815) scale(1.04,1.03)" font-size="21.5" text-anchor="middle">14</text>
<line x1="925.6" y1="788.4" x2="925.6" y2="791.4" stroke="#000" stroke-width="2.2"/>
<line x1="944.6" y1="788.4" x2="944.6" y2="793.9" stroke="#000" stroke-width="2.8"/>
<text transform="translate(944.9,815) scale(1.04,1.03)" font-size="21.5" text-anchor="middle">16</text>
<line x1="963.6" y1="788.4" x2="963.6" y2="791.4" stroke="#000" stroke-width="2.2"/>
<line x1="982.6" y1="788.4" x2="982.6" y2="793.9" stroke="#000" stroke-width="2.8"/>
<text transform="translate(982.9,815) scale(1.04,1.03)" font-size="21.5" text-anchor="middle">18</text>
<line x1="1001.6" y1="788.4" x2="1001.6" y2="791.4" stroke="#000" stroke-width="2.2"/>
<line x1="1020.6" y1="788.4" x2="1020.6" y2="793.9" stroke="#000" stroke-width="2.8"/>
<text transform="translate(1020.9,815) scale(1.04,1.03)" font-size="21.5" text-anchor="middle">20</text>
<line x1="1039.6" y1="788.4" x2="1039.6" y2="791.4" stroke="#000" stroke-width="2.2"/>
<line x1="1058.6" y1="788.4" x2="1058.6" y2="793.9" stroke="#000" stroke-width="2.8"/>
<text transform="translate(1058.9,815) scale(1.04,1.03)" font-size="21.5" text-anchor="middle">22</text>
<line x1="1077.6" y1="788.4" x2="1077.6" y2="791.4" stroke="#000" stroke-width="2.2"/>
<line x1="1096.6" y1="788.4" x2="1096.6" y2="793.9" stroke="#000" stroke-width="2.8"/>
<text transform="translate(1096.9,815) scale(1.04,1.03)" font-size="21.5" text-anchor="middle">24</text>
<line x1="1115.6" y1="788.4" x2="1115.6" y2="791.4" stroke="#000" stroke-width="2.2"/>
<line x1="1134.6" y1="788.4" x2="1134.6" y2="793.9" stroke="#000" stroke-width="2.8"/>
<text transform="translate(1134.9,815) scale(1.04,1.03)" font-size="21.5" text-anchor="middle">26</text>
<line x1="1153.6" y1="788.4" x2="1153.6" y2="791.4" stroke="#000" stroke-width="2.2"/>
<line x1="1172.6" y1="788.4" x2="1172.6" y2="793.9" stroke="#000" stroke-width="2.8"/>
<text transform="translate(1172.9,815) scale(1.04,1.03)" font-size="21.5" text-anchor="middle">28</text>
<line x1="1191.6" y1="788.4" x2="1191.6" y2="791.4" stroke="#000" stroke-width="2.2"/>
<line x1="1210.6" y1="788.4" x2="1210.6" y2="793.9" stroke="#000" stroke-width="2.8"/>
<text transform="translate(1210.9,815) scale(1.04,1.03)" font-size="21.5" text-anchor="middle">30</text>
<text transform="translate(1049,839.4) scale(1.07,1.03)" font-size="28" text-anchor="middle">Retention time (ms)</text>
<text transform="translate(819.2,660.6) rotate(-90)" font-size="29.3" text-anchor="middle">ln(C<tspan font-size="16.5" dy="4.5">P</tspan><tspan dy="-4.5">/C</tspan><tspan font-size="16.5" dy="4.5">F</tspan><tspan dy="-4.5">)</tspan></text>
<line x1="898.7" y1="551" x2="1198" y2="768" stroke="#5F589C" stroke-width="3"/>
<ellipse cx="898.7" cy="548.8" rx="6.55" ry="6.3" fill="url(#bp)"/>
<ellipse cx="953.3" cy="588" rx="6.55" ry="6.3" fill="url(#bp)"/>
<ellipse cx="1025.7" cy="652.5" rx="6.55" ry="6.3" fill="url(#bp)"/>
<ellipse cx="1198" cy="768" rx="6.55" ry="6.3" fill="url(#bp)"/>
<text transform="translate(999.4,611.6) scale(1.05,1.03)" font-size="28" fill="#5F589C"><tspan font-style="italic">k</tspan>= 0.0717 ms<tspan font-size="19" dy="-11">-1</tspan></text>
</g>
<g id="pf">
<text transform="translate(1282,499.2)" font-size="45" font-weight="bold">f</text>
<rect x="1391.2" y="471.3" width="485.4" height="381" fill="none" stroke="#000" stroke-width="2.3"/>
<line x1="1383.4" y1="852.3" x2="1391.2" y2="852.3" stroke="#000" stroke-width="2"/>
<text transform="translate(1378,864.3) scale(1.05,1.03)" font-size="31" text-anchor="end">10<tspan font-size="21" dy="-12.5">-3</tspan></text>
<line x1="1387.5" y1="835.92" x2="1391.2" y2="835.92" stroke="#000" stroke-width="1.6"/>
<line x1="1387.5" y1="826.33" x2="1391.2" y2="826.33" stroke="#000" stroke-width="1.6"/>
<line x1="1387.5" y1="819.53" x2="1391.2" y2="819.53" stroke="#000" stroke-width="1.6"/>
<line x1="1387.5" y1="814.26" x2="1391.2" y2="814.26" stroke="#000" stroke-width="1.6"/>
<line x1="1387.5" y1="809.95" x2="1391.2" y2="809.95" stroke="#000" stroke-width="1.6"/>
<line x1="1387.5" y1="806.3" x2="1391.2" y2="806.3" stroke="#000" stroke-width="1.6"/>
<line x1="1387.5" y1="803.15" x2="1391.2" y2="803.15" stroke="#000" stroke-width="1.6"/>
<line x1="1387.5" y1="800.36" x2="1391.2" y2="800.36" stroke="#000" stroke-width="1.6"/>
<line x1="1383.4" y1="797.87" x2="1391.2" y2="797.87" stroke="#000" stroke-width="2"/>
<text transform="translate(1378,809.87) scale(1.05,1.03)" font-size="31" text-anchor="end">10<tspan font-size="21" dy="-12.5">-2</tspan></text>
<line x1="1387.5" y1="781.49" x2="1391.2" y2="781.49" stroke="#000" stroke-width="1.6"/>
<line x1="1387.5" y1="771.9" x2="1391.2" y2="771.9" stroke="#000" stroke-width="1.6"/>
<line x1="1387.5" y1="765.1" x2="1391.2" y2="765.1" stroke="#000" stroke-width="1.6"/>
<line x1="1387.5" y1="759.83" x2="1391.2" y2="759.83" stroke="#000" stroke-width="1.6"/>
<line x1="1387.5" y1="755.52" x2="1391.2" y2="755.52" stroke="#000" stroke-width="1.6"/>
<line x1="1387.5" y1="751.87" x2="1391.2" y2="751.87" stroke="#000" stroke-width="1.6"/>
<line x1="1387.5" y1="748.72" x2="1391.2" y2="748.72" stroke="#000" stroke-width="1.6"/>
<line x1="1387.5" y1="745.93" x2="1391.2" y2="745.93" stroke="#000" stroke-width="1.6"/>
<line x1="1383.4" y1="743.44" x2="1391.2" y2="743.44" stroke="#000" stroke-width="2"/>
<text transform="translate(1378,755.44) scale(1.05,1.03)" font-size="31" text-anchor="end">10<tspan font-size="21" dy="-12.5">-1</tspan></text>
<line x1="1387.5" y1="727.06" x2="1391.2" y2="727.06" stroke="#000" stroke-width="1.6"/>
<line x1="1387.5" y1="717.47" x2="1391.2" y2="717.47" stroke="#000" stroke-width="1.6"/>
<line x1="1387.5" y1="710.67" x2="1391.2" y2="710.67" stroke="#000" stroke-width="1.6"/>
<line x1="1387.5" y1="705.4" x2="1391.2" y2="705.4" stroke="#000" stroke-width="1.6"/>
<line x1="1387.5" y1="701.09" x2="1391.2" y2="701.09" stroke="#000" stroke-width="1.6"/>
<line x1="1387.5" y1="697.45" x2="1391.2" y2="697.45" stroke="#000" stroke-width="1.6"/>
<line x1="1387.5" y1="694.29" x2="1391.2" y2="694.29" stroke="#000" stroke-width="1.6"/>
<line x1="1387.5" y1="691.5" x2="1391.2" y2="691.5" stroke="#000" stroke-width="1.6"/>
<line x1="1383.4" y1="689.01" x2="1391.2" y2="689.01" stroke="#000" stroke-width="2"/>
<text transform="translate(1378,701.01) scale(1.05,1.03)" font-size="31" text-anchor="end">10<tspan font-size="21" dy="-12.5">0</tspan></text>
<line x1="1387.5" y1="672.63" x2="1391.2" y2="672.63" stroke="#000" stroke-width="1.6"/>
<line x1="1387.5" y1="663.05" x2="1391.2" y2="663.05" stroke="#000" stroke-width="1.6"/>
<line x1="1387.5" y1="656.25" x2="1391.2" y2="656.25" stroke="#000" stroke-width="1.6"/>
<line x1="1387.5" y1="650.97" x2="1391.2" y2="650.97" stroke="#000" stroke-width="1.6"/>
<line x1="1387.5" y1="646.66" x2="1391.2" y2="646.66" stroke="#000" stroke-width="1.6"/>
<line x1="1387.5" y1="643.02" x2="1391.2" y2="643.02" stroke="#000" stroke-width="1.6"/>
<line x1="1387.5" y1="639.86" x2="1391.2" y2="639.86" stroke="#000" stroke-width="1.6"/>
<line x1="1387.5" y1="637.08" x2="1391.2" y2="637.08" stroke="#000" stroke-width="1.6"/>
<line x1="1383.4" y1="634.59" x2="1391.2" y2="634.59" stroke="#000" stroke-width="2"/>
<text transform="translate(1378,646.59) scale(1.05,1.03)" font-size="31" text-anchor="end">10<tspan font-size="21" dy="-12.5">1</tspan></text>
<line x1="1387.5" y1="618.2" x2="1391.2" y2="618.2" stroke="#000" stroke-width="1.6"/>
<line x1="1387.5" y1="608.62" x2="1391.2" y2="608.62" stroke="#000" stroke-width="1.6"/>
<line x1="1387.5" y1="601.82" x2="1391.2" y2="601.82" stroke="#000" stroke-width="1.6"/>
<line x1="1387.5" y1="596.54" x2="1391.2" y2="596.54" stroke="#000" stroke-width="1.6"/>
<line x1="1387.5" y1="592.23" x2="1391.2" y2="592.23" stroke="#000" stroke-width="1.6"/>
<line x1="1387.5" y1="588.59" x2="1391.2" y2="588.59" stroke="#000" stroke-width="1.6"/>
<line x1="1387.5" y1="585.43" x2="1391.2" y2="585.43" stroke="#000" stroke-width="1.6"/>
<line x1="1387.5" y1="582.65" x2="1391.2" y2="582.65" stroke="#000" stroke-width="1.6"/>
<line x1="1383.4" y1="580.16" x2="1391.2" y2="580.16" stroke="#000" stroke-width="2"/>
<text transform="translate(1378,592.16) scale(1.05,1.03)" font-size="31" text-anchor="end">10<tspan font-size="21" dy="-12.5">2</tspan></text>
<line x1="1387.5" y1="563.77" x2="1391.2" y2="563.77" stroke="#000" stroke-width="1.6"/>
<line x1="1387.5" y1="554.19" x2="1391.2" y2="554.19" stroke="#000" stroke-width="1.6"/>
<line x1="1387.5" y1="547.39" x2="1391.2" y2="547.39" stroke="#000" stroke-width="1.6"/>
<line x1="1387.5" y1="542.11" x2="1391.2" y2="542.11" stroke="#000" stroke-width="1.6"/>
<line x1="1387.5" y1="537.8" x2="1391.2" y2="537.8" stroke="#000" stroke-width="1.6"/>
<line x1="1387.5" y1="534.16" x2="1391.2" y2="534.16" stroke="#000" stroke-width="1.6"/>
<line x1="1387.5" y1="531" x2="1391.2" y2="531" stroke="#000" stroke-width="1.6"/>
<line x1="1387.5" y1="528.22" x2="1391.2" y2="528.22" stroke="#000" stroke-width="1.6"/>
<line x1="1383.4" y1="525.73" x2="1391.2" y2="525.73" stroke="#000" stroke-width="2"/>
<text transform="translate(1378,537.73) scale(1.05,1.03)" font-size="31" text-anchor="end">10<tspan font-size="21" dy="-12.5">3</tspan></text>
<line x1="1387.5" y1="509.34" x2="1391.2" y2="509.34" stroke="#000" stroke-width="1.6"/>
<line x1="1387.5" y1="499.76" x2="1391.2" y2="499.76" stroke="#000" stroke-width="1.6"/>
<line x1="1387.5" y1="492.96" x2="1391.2" y2="492.96" stroke="#000" stroke-width="1.6"/>
<line x1="1387.5" y1="487.68" x2="1391.2" y2="487.68" stroke="#000" stroke-width="1.6"/>
<line x1="1387.5" y1="483.37" x2="1391.2" y2="483.37" stroke="#000" stroke-width="1.6"/>
<line x1="1387.5" y1="479.73" x2="1391.2" y2="479.73" stroke="#000" stroke-width="1.6"/>
<line x1="1387.5" y1="476.57" x2="1391.2" y2="476.57" stroke="#000" stroke-width="1.6"/>
<line x1="1387.5" y1="473.79" x2="1391.2" y2="473.79" stroke="#000" stroke-width="1.6"/>
<line x1="1383.4" y1="471.3" x2="1391.2" y2="471.3" stroke="#000" stroke-width="2"/>
<text transform="translate(1378,483.3) scale(1.05,1.03)" font-size="31" text-anchor="end">10<tspan font-size="21" dy="-12.5">4</tspan></text>
<line x1="1416.9" y1="852.3" x2="1416.9" y2="859.8" stroke="#000" stroke-width="2"/>
<text transform="translate(1416.9,889.7) scale(1.08,1.03)" font-size="31" text-anchor="middle">0</text>
<line x1="1522.94" y1="852.3" x2="1522.94" y2="859.8" stroke="#000" stroke-width="2"/>
<text transform="translate(1522.94,889.7) scale(1.08,1.03)" font-size="31" text-anchor="middle">20</text>
<line x1="1628.98" y1="852.3" x2="1628.98" y2="859.8" stroke="#000" stroke-width="2"/>
<text transform="translate(1628.98,889.7) scale(1.08,1.03)" font-size="31" text-anchor="middle">40</text>
<line x1="1735.02" y1="852.3" x2="1735.02" y2="859.8" stroke="#000" stroke-width="2"/>
<text transform="translate(1735.02,889.7) scale(1.08,1.03)" font-size="31" text-anchor="middle">60</text>
<line x1="1849.6" y1="852.3" x2="1849.6" y2="859.8" stroke="#000" stroke-width="2"/>
<text transform="translate(1849.6,889.7) scale(1.08,1.03)" font-size="31" text-anchor="middle">120</text>
<line x1="1469.92" y1="852.3" x2="1469.92" y2="856" stroke="#000" stroke-width="2"/>
<line x1="1575.96" y1="852.3" x2="1575.96" y2="856" stroke="#000" stroke-width="2"/>
<line x1="1682" y1="852.3" x2="1682" y2="856" stroke="#000" stroke-width="2"/>
<line x1="1796.7" y1="852.3" x2="1796.7" y2="856" stroke="#000" stroke-width="2"/>
<rect x="1760.5" y="469.3" width="12" height="4" fill="#fff"/>
<line x1="1757.5" y1="478.8" x2="1765" y2="463.8" stroke="#000" stroke-width="2.2"/>
<line x1="1766" y1="478.8" x2="1773.5" y2="463.8" stroke="#000" stroke-width="2.2"/>
<rect x="1760.5" y="850.3" width="12" height="4" fill="#fff"/>
<line x1="1757.5" y1="859.8" x2="1765" y2="844.8" stroke="#000" stroke-width="2.2"/>
<line x1="1766" y1="859.8" x2="1773.5" y2="844.8" stroke="#000" stroke-width="2.2"/>
<text transform="translate(1633.7,922) scale(1.08,1.03)" font-size="31" text-anchor="middle">Time (min)</text>
<text transform="translate(1312.5,656) rotate(-90) scale(1,1.07)" font-size="31.3" text-anchor="middle"><tspan font-style="italic">k</tspan> (min<tspan font-size="21" dy="-9.3">-1</tspan><tspan dy="9.3">)</tspan></text>
<rect x="1409.95" y="481.95" width="14.7" height="14.7" fill="#4A8F2A"/>
<rect x="1409.95" y="490.35" width="14.7" height="14.7" fill="#4A8F2A"/>
<path d="M1417.2 481.7L1419.46 488.19L1426.33 488.33L1420.85 492.49L1422.84 499.07L1417.2 495.14L1411.56 499.07L1413.55 492.49L1408.07 488.33L1414.94 488.19Z" fill="#FF0000"/>
<rect x="1409.95" y="569.45" width="14.7" height="14.7" fill="#4A8F2A"/>
<path d="M1434.2 720.77L1453.4 720.77L1443.8 704.97Z" fill="#F0781E"/>
<rect x="1436.65" y="680.95" width="14.7" height="14.7" fill="#4A8F2A"/>
<path d="M1438.4 704.23L1457.6 704.23L1448 720.03Z" fill="#19A5A0"/>
<path d="M1444.9 691.73L1464.1 691.73L1454.5 707.53Z" fill="#19A5A0"/>
<path d="M1461 693.53L1480.2 693.53L1470.6 709.33Z" fill="#19A5A0"/>
<path d="M1567.1 775.73L1586.3 775.73L1576.7 791.53Z" fill="#19A5A0"/>
<path d="M1523.85 724.1L1534 714.1L1544.15 724.1L1534 734.1Z" fill="#0A6AB0"/>
<ellipse cx="1655.9" cy="734.5" rx="8.32" ry="8" fill="#5F589C"/>
<ellipse cx="1735" cy="770.3" rx="8.32" ry="8" fill="#5F589C"/>
<ellipse cx="1735" cy="780.4" rx="8.32" ry="8" fill="#5F589C"/>
<ellipse cx="1735" cy="809" rx="8.32" ry="8" fill="#5F589C"/>
<ellipse cx="1735" cy="825.2" rx="8.32" ry="8" fill="#5F589C"/>
<ellipse cx="1849.7" cy="795.8" rx="8.32" ry="8" fill="#5F589C"/>
<ellipse cx="1849.7" cy="803.7" rx="8.32" ry="8" fill="#5F589C"/>
<text transform="translate(1403.8,530.5) scale(1.05,1.03)" font-size="24" font-weight="bold">49-51</text>
<text transform="translate(1410.3,606.3) scale(1.05,1.03)" font-size="24" font-weight="bold">48</text>
<text transform="translate(1420.3,671.3) scale(1.05,1.03)" font-size="24" font-weight="bold">18</text>
<text transform="translate(1512.3,709.4) scale(1.05,1.03)" font-size="24" font-weight="bold">22</text>
<text transform="translate(1420,741.7) scale(1.05,1.03)" font-size="24" font-weight="bold">43</text>
<text transform="translate(1453,767.1) scale(1.05,1.03)" font-size="24" font-weight="bold">45-47</text>
<text transform="translate(1557,813.7) scale(1.05,1.03)" font-size="24" font-weight="bold">44</text>
<text transform="translate(1616,742) scale(1.05,1.03)" font-size="24" font-weight="bold">40</text>
<text transform="translate(1694,784) scale(1.05,1.03)" font-size="24" font-weight="bold">40</text>
<text transform="translate(1694,822.7) scale(1.05,1.03)" font-size="24" font-weight="bold">39</text>
<text transform="translate(1810,791.1) scale(1.05,1.03)" font-size="24" font-weight="bold">42</text>
<rect x="1508.95" y="485.65" width="14.7" height="14.7" fill="#4A8F2A"/>
<ellipse cx="1516.3" cy="524.5" rx="8.53" ry="8.2" fill="#5F589C"/>
<path d="M1506.7 561.57L1525.9 561.57L1516.3 545.77Z" fill="#F0781E"/>
<path d="M1506.7 582.13L1525.9 582.13L1516.3 597.93Z" fill="#19A5A0"/>
<path d="M1506.15 619.2L1516.3 609.2L1526.45 619.2L1516.3 629.2Z" fill="#0A6AB0"/>
<path d="M1516.3 639L1518.49 645.29L1525.14 645.43L1519.84 649.45L1521.77 655.82L1516.3 652.02L1510.83 655.82L1512.76 649.45L1507.46 645.43L1514.11 645.29Z" fill="#FF0000"/>
<text transform="translate(1559.8,502.2) scale(1.06,1.03)" font-size="24.5" fill="#4A8F2A">Nanoconfinement catalysis</text>
<text transform="translate(1553.2,533) scale(1.06,1.03)" font-size="24.5" fill="#5F589C">Photocatalysis</text>
<text transform="translate(1553.2,565.2) scale(1.06,1.03)" font-size="24.5" fill="#F0781E">UV photolysis</text>
<text transform="translate(1553.2,597.2) scale(1.06,1.03)" font-size="24.5" fill="#19A5A0">Heterogeneous catalysis</text>
<text transform="translate(1553.2,628) scale(1.06,1.03)" font-size="24.5" fill="#0A6AB0">Photo-Fenton</text>
<text transform="translate(1551.5,656.3) scale(1.06,1.03)" font-size="24.5" fill="#FF0000">This work</text>
</g>
<g id="pg">
<text transform="translate(-1,958.3)" font-size="45" font-weight="bold">g</text>
<rect x="115.4" y="951.3" width="502.4" height="378.4" fill="none" stroke="#000" stroke-width="2.3"/>
<line x1="107.9" y1="1329.7" x2="115.4" y2="1329.7" stroke="#000" stroke-width="2"/>
<text transform="translate(101,1339.1) scale(1.05,1.03)" font-size="32" text-anchor="end">0</text>
<line x1="111.7" y1="1293.7" x2="115.4" y2="1293.7" stroke="#000" stroke-width="2"/>
<line x1="107.9" y1="1257.7" x2="115.4" y2="1257.7" stroke="#000" stroke-width="2"/>
<text transform="translate(101,1267.1) scale(1.05,1.03)" font-size="32" text-anchor="end">20</text>
<line x1="111.7" y1="1221.7" x2="115.4" y2="1221.7" stroke="#000" stroke-width="2"/>
<line x1="107.9" y1="1185.7" x2="115.4" y2="1185.7" stroke="#000" stroke-width="2"/>
<text transform="translate(101,1195.1) scale(1.05,1.03)" font-size="32" text-anchor="end">40</text>
<line x1="111.7" y1="1149.7" x2="115.4" y2="1149.7" stroke="#000" stroke-width="2"/>
<line x1="107.9" y1="1113.7" x2="115.4" y2="1113.7" stroke="#000" stroke-width="2"/>
<text transform="translate(101,1123.1) scale(1.05,1.03)" font-size="32" text-anchor="end">60</text>
<line x1="111.7" y1="1077.7" x2="115.4" y2="1077.7" stroke="#000" stroke-width="2"/>
<line x1="107.9" y1="1041.7" x2="115.4" y2="1041.7" stroke="#000" stroke-width="2"/>
<text transform="translate(101,1051.1) scale(1.05,1.03)" font-size="32" text-anchor="end">80</text>
<line x1="111.7" y1="1005.7" x2="115.4" y2="1005.7" stroke="#000" stroke-width="2"/>
<line x1="107.9" y1="969.7" x2="115.4" y2="969.7" stroke="#000" stroke-width="2"/>
<text transform="translate(101,979.1) scale(1.05,1.03)" font-size="32" text-anchor="end">100</text>
<line x1="151.2" y1="970.4" x2="151.2" y2="1329.7" stroke="#5e5e5e" stroke-width="3.1" stroke-dasharray="11.2 14.6"/>
<line x1="151.2" y1="1329.7" x2="151.2" y2="1323.7" stroke="#000" stroke-width="2"/>
<line x1="222.8" y1="986.7" x2="222.8" y2="1329.7" stroke="#5e5e5e" stroke-width="3.1" stroke-dasharray="11.2 14.6"/>
<line x1="222.8" y1="1329.7" x2="222.8" y2="1323.7" stroke="#000" stroke-width="2"/>
<line x1="294.5" y1="1004.2" x2="294.5" y2="1329.7" stroke="#5e5e5e" stroke-width="3.1" stroke-dasharray="11.2 14.6"/>
<line x1="294.5" y1="1329.7" x2="294.5" y2="1323.7" stroke="#000" stroke-width="2"/>
<line x1="366.1" y1="982.7" x2="366.1" y2="1329.7" stroke="#5e5e5e" stroke-width="3.1" stroke-dasharray="11.2 14.6"/>
<line x1="366.1" y1="1329.7" x2="366.1" y2="1323.7" stroke="#000" stroke-width="2"/>
<line x1="438" y1="976.8" x2="438" y2="1329.7" stroke="#5e5e5e" stroke-width="3.1" stroke-dasharray="11.2 14.6"/>
<line x1="438" y1="1329.7" x2="438" y2="1323.7" stroke="#000" stroke-width="2"/>
<line x1="509.4" y1="983.4" x2="509.4" y2="1329.7" stroke="#5e5e5e" stroke-width="3.1" stroke-dasharray="11.2 14.6"/>
<line x1="509.4" y1="1329.7" x2="509.4" y2="1323.7" stroke="#000" stroke-width="2"/>
<line x1="581.2" y1="996.6" x2="581.2" y2="1329.7" stroke="#5e5e5e" stroke-width="3.1" stroke-dasharray="11.2 14.6"/>
<line x1="581.2" y1="1329.7" x2="581.2" y2="1323.7" stroke="#000" stroke-width="2"/>
<rect x="147.2" y="1067.3" width="8" height="193.7" fill="#fff"/>
<text transform="translate(150,1078.14) rotate(90) scale(1,1.04)" font-size="30.8">Milli-Q water</text>
<rect x="218.8" y="1083.3" width="8" height="157.9" fill="#fff"/>
<text transform="translate(220.5,1094.14) rotate(90) scale(1,1.04)" font-size="30.8">Tap water</text>
<rect x="290.5" y="1080.3" width="8" height="173.1" fill="#fff"/>
<text transform="translate(288.5,1091.14) rotate(90) scale(1,1.04)" font-size="30.8">Lake water</text>
<rect x="362.1" y="1120.7" width="8" height="65.3" fill="#fff"/>
<text transform="translate(351.2,1131.04) rotate(90) scale(1,1.04)" font-size="38">Cl<tspan font-size="26" dy="-13">-</tspan></text>
<rect x="434" y="1116.2" width="8" height="96.8" fill="#fff"/>
<text transform="translate(430,1127.03) rotate(90) scale(1,1.04)" font-size="31">SO<tspan font-size="21" dy="3.5">4</tspan><tspan font-size="21" dy="-17">2-</tspan></text>
<rect x="505.4" y="1112.3" width="8" height="98.9" fill="#fff"/>
<text transform="translate(500,1123.13) rotate(90) scale(1,1.04)" font-size="31">CO<tspan font-size="21" dy="3.5">3</tspan><tspan font-size="21" dy="-17">2-</tspan></text>
<rect x="577.2" y="1118.7" width="8" height="96.6" fill="#fff"/>
<text transform="translate(565,1129.53) rotate(90) scale(1,1.04)" font-size="31">PO<tspan font-size="21" dy="3.5">4</tspan><tspan font-size="21" dy="-17">3-</tspan></text>
<ellipse cx="151.2" cy="970" rx="13.25" ry="12.5" fill="url(#bp)"/>
<line x1="151.2" y1="958" x2="151.2" y2="982" stroke="#000" stroke-width="2.6"/>
<rect x="148.4" y="968.5" width="5.6" height="3" fill="#000"/>
<ellipse cx="222.8" cy="986.3" rx="13.25" ry="12.5" fill="url(#bp)"/>
<line x1="222.8" y1="974.3" x2="222.8" y2="998.3" stroke="#000" stroke-width="2.6"/>
<rect x="220" y="984.8" width="5.6" height="3" fill="#000"/>
<ellipse cx="294.5" cy="1003.8" rx="13.25" ry="12.5" fill="url(#bp)"/>
<line x1="294.5" y1="991.8" x2="294.5" y2="1015.8" stroke="#000" stroke-width="2.6"/>
<rect x="291.7" y="1002.3" width="5.6" height="3" fill="#000"/>
<ellipse cx="366.1" cy="982.3" rx="13.25" ry="12.5" fill="url(#bp)"/>
<line x1="366.1" y1="970.3" x2="366.1" y2="994.3" stroke="#000" stroke-width="2.6"/>
<rect x="363.3" y="980.8" width="5.6" height="3" fill="#000"/>
<ellipse cx="438" cy="976.4" rx="13.25" ry="12.5" fill="url(#bp)"/>
<line x1="438" y1="964.4" x2="438" y2="988.4" stroke="#000" stroke-width="2.6"/>
<rect x="435.2" y="974.9" width="5.6" height="3" fill="#000"/>
<ellipse cx="509.4" cy="983" rx="13.25" ry="12.5" fill="url(#bp)"/>
<line x1="509.4" y1="971" x2="509.4" y2="995" stroke="#000" stroke-width="2.6"/>
<rect x="506.6" y="981.5" width="5.6" height="3" fill="#000"/>
<ellipse cx="581.2" cy="996.2" rx="13.25" ry="12.5" fill="url(#bp)"/>
<line x1="581.2" y1="984.2" x2="581.2" y2="1008.2" stroke="#000" stroke-width="2.6"/>
<rect x="578.4" y="994.7" width="5.6" height="3" fill="#000"/>
<text transform="translate(366.3,1365) scale(1.11,1.03)" font-size="31" text-anchor="middle">Different conditions</text>
<text transform="translate(41.3,1141) rotate(-90) scale(1,1.07)" font-size="32.4" text-anchor="middle">Removal efficiency (%)</text>
</g>
<g id="ph">
<text transform="translate(648.7,969.2)" font-size="45" font-weight="bold">h</text>
<rect x="743" y="959.2" width="321" height="381.2" fill="#FCE4D6"/>
<rect x="1064" y="959.2" width="176.9" height="381.2" fill="#DDEBF7"/>
<rect x="766.2" y="991.95" width="35.6" height="348.45" fill="#5F589C" stroke="#15152a" stroke-width="1.5"/>
<rect x="816.6" y="991.25" width="35.6" height="349.15" fill="#5F589C" stroke="#15152a" stroke-width="1.5"/>
<rect x="867.2" y="991.6" width="35.6" height="348.8" fill="#5F589C" stroke="#15152a" stroke-width="1.5"/>
<rect x="917.8" y="1013.29" width="35.6" height="327.11" fill="#5F589C" stroke="#15152a" stroke-width="1.5"/>
<rect x="968.8" y="1037.78" width="35.6" height="302.62" fill="#5F589C" stroke="#15152a" stroke-width="1.5"/>
<rect x="1019.7" y="1037.08" width="35.6" height="303.32" fill="#5F589C" stroke="#15152a" stroke-width="1.5"/>
<rect x="1095.4" y="1192.06" width="35.6" height="148.34" fill="#19A5A0" stroke="#063634" stroke-width="1.5"/>
<rect x="1146.2" y="1331.65" width="35.6" height="8.75" fill="#19A5A0" stroke="#063634" stroke-width="1.5"/>
<rect x="1196.7" y="1334.45" width="35.6" height="5.95" fill="#19A5A0" stroke="#063634" stroke-width="1.5"/>
<rect x="743" y="959.2" width="497.9" height="381.2" fill="none" stroke="#000" stroke-width="2.3"/>
<line x1="742" y1="1340.8" x2="1241.9" y2="1340.8" stroke="#000" stroke-width="3.2"/>
<line x1="743" y1="1340.4" x2="751" y2="1340.4" stroke="#000" stroke-width="2"/>
<text transform="translate(733.3,1350.1) scale(1.04,1.03)" font-size="31.4" text-anchor="end">0</text>
<line x1="739" y1="1305.42" x2="743" y2="1305.42" stroke="#000" stroke-width="2"/>
<line x1="743" y1="1270.43" x2="751" y2="1270.43" stroke="#000" stroke-width="2"/>
<text transform="translate(733.3,1280.13) scale(1.04,1.03)" font-size="31.4" text-anchor="end">20</text>
<line x1="739" y1="1235.45" x2="743" y2="1235.45" stroke="#000" stroke-width="2"/>
<line x1="743" y1="1200.46" x2="751" y2="1200.46" stroke="#000" stroke-width="2"/>
<text transform="translate(733.3,1210.16) scale(1.04,1.03)" font-size="31.4" text-anchor="end">40</text>
<line x1="739" y1="1165.48" x2="743" y2="1165.48" stroke="#000" stroke-width="2"/>
<line x1="743" y1="1130.49" x2="751" y2="1130.49" stroke="#000" stroke-width="2"/>
<text transform="translate(733.3,1140.19) scale(1.04,1.03)" font-size="31.4" text-anchor="end">60</text>
<line x1="739" y1="1095.51" x2="743" y2="1095.51" stroke="#000" stroke-width="2"/>
<line x1="743" y1="1060.52" x2="751" y2="1060.52" stroke="#000" stroke-width="2"/>
<text transform="translate(733.3,1070.22) scale(1.04,1.03)" font-size="31.4" text-anchor="end">80</text>
<line x1="739" y1="1025.54" x2="743" y2="1025.54" stroke="#000" stroke-width="2"/>
<line x1="743" y1="990.55" x2="751" y2="990.55" stroke="#000" stroke-width="2"/>
<text transform="translate(733.3,1000.25) scale(1.04,1.03)" font-size="31.4" text-anchor="end">100</text>
<line x1="936.2" y1="1010.5" x2="936.2" y2="1015.8" stroke="#000" stroke-width="2.2"/><line x1="933.2" y1="1010.5" x2="939.2" y2="1010.5" stroke="#000" stroke-width="2.2"/><line x1="933.2" y1="1015.8" x2="939.2" y2="1015.8" stroke="#000" stroke-width="2.2"/>
<line x1="986.4" y1="1029.4" x2="986.4" y2="1046.1" stroke="#000" stroke-width="2.2"/><line x1="981.9" y1="1029.4" x2="990.9" y2="1029.4" stroke="#000" stroke-width="2.2"/><line x1="981.9" y1="1046.1" x2="990.9" y2="1046.1" stroke="#000" stroke-width="2.2"/>
<line x1="1038" y1="1027" x2="1038" y2="1046.8" stroke="#000" stroke-width="2.2"/><line x1="1033.5" y1="1027" x2="1042.5" y2="1027" stroke="#000" stroke-width="2.2"/><line x1="1033.5" y1="1046.8" x2="1042.5" y2="1046.8" stroke="#000" stroke-width="2.2"/>
<line x1="1163.5" y1="1328" x2="1163.5" y2="1335" stroke="#000" stroke-width="2.2"/><line x1="1160" y1="1328" x2="1167" y2="1328" stroke="#000" stroke-width="2.2"/><line x1="1160" y1="1335" x2="1167" y2="1335" stroke="#000" stroke-width="2.2"/>
<ellipse cx="772.5" cy="991.7" rx="4.73" ry="4.5" fill="#fff" stroke="#000" stroke-width="4"/>
<ellipse cx="785.3" cy="988.3" rx="4.73" ry="4.5" fill="#fff" stroke="#000" stroke-width="4"/>
<ellipse cx="797.2" cy="992.8" rx="4.73" ry="4.5" fill="#fff" stroke="#000" stroke-width="4"/>
<ellipse cx="821.2" cy="991.3" rx="4.73" ry="4.5" fill="#fff" stroke="#000" stroke-width="4"/>
<ellipse cx="833.7" cy="989.5" rx="4.73" ry="4.5" fill="#fff" stroke="#000" stroke-width="4"/>
<ellipse cx="846.3" cy="989.5" rx="4.73" ry="4.5" fill="#fff" stroke="#000" stroke-width="4"/>
<ellipse cx="874.2" cy="992.3" rx="4.73" ry="4.5" fill="#fff" stroke="#000" stroke-width="4"/>
<ellipse cx="885" cy="991.2" rx="4.73" ry="4.5" fill="#fff" stroke="#000" stroke-width="4"/>
<ellipse cx="897.2" cy="992.3" rx="4.73" ry="4.5" fill="#fff" stroke="#000" stroke-width="4"/>
<ellipse cx="924.2" cy="1012.8" rx="4.73" ry="4.5" fill="#fff" stroke="#000" stroke-width="4"/>
<ellipse cx="947.5" cy="1008" rx="4.73" ry="4.5" fill="#fff" stroke="#000" stroke-width="4"/>
<ellipse cx="947.5" cy="1015" rx="4.73" ry="4.5" fill="#fff" stroke="#000" stroke-width="4"/>
<ellipse cx="977" cy="1039.1" rx="4.73" ry="4.5" fill="#fff" stroke="#000" stroke-width="4"/>
<ellipse cx="996.8" cy="1030.4" rx="4.73" ry="4.5" fill="#fff" stroke="#000" stroke-width="4"/>
<ellipse cx="996.8" cy="1048.5" rx="4.73" ry="4.5" fill="#fff" stroke="#000" stroke-width="4"/>
<ellipse cx="1026.8" cy="1033.9" rx="4.73" ry="4.5" fill="#fff" stroke="#000" stroke-width="4"/>
<ellipse cx="1049.5" cy="1027.6" rx="4.73" ry="4.5" fill="#fff" stroke="#000" stroke-width="4"/>
<ellipse cx="1047.7" cy="1048.5" rx="4.73" ry="4.5" fill="#fff" stroke="#000" stroke-width="4"/>
<ellipse cx="1101.4" cy="1191.5" rx="4.73" ry="4.5" fill="#fff" stroke="#000" stroke-width="4"/>
<ellipse cx="1113.3" cy="1187.3" rx="4.73" ry="4.5" fill="#fff" stroke="#000" stroke-width="4"/>
<ellipse cx="1125.1" cy="1191.5" rx="4.73" ry="4.5" fill="#fff" stroke="#000" stroke-width="4"/>
<ellipse cx="1153.7" cy="1332.7" rx="4.73" ry="4.5" fill="#fff" stroke="#000" stroke-width="4"/>
<ellipse cx="1173.2" cy="1326.8" rx="4.73" ry="4.5" fill="#fff" stroke="#000" stroke-width="4"/>
<ellipse cx="1173.2" cy="1335.2" rx="4.73" ry="4.5" fill="#fff" stroke="#000" stroke-width="4"/>
<ellipse cx="1202.9" cy="1333.8" rx="4.73" ry="4.5" fill="#fff" stroke="#000" stroke-width="4"/>
<ellipse cx="1215.1" cy="1333.4" rx="4.73" ry="4.5" fill="#fff" stroke="#000" stroke-width="4"/>
<ellipse cx="1226.9" cy="1333.8" rx="4.73" ry="4.5" fill="#fff" stroke="#000" stroke-width="4"/>
<text transform="translate(851.5,984.7) scale(1.08,1.03)" font-size="24" fill="#5F589C">Electron-rich</text>
<text transform="translate(1119.2,1138.2) scale(1.08,1.03)" font-size="24" fill="#19A5A0">Electron</text>
<text transform="translate(1119.2,1174.1) scale(1.08,1.03)" font-size="24" fill="#19A5A0">-deficient</text>
<text transform="translate(803.3,1360.7) scale(1.05,1) rotate(-45) scale(1,1.03)" font-size="32.3" text-anchor="end">MB</text>
<text transform="translate(853.6,1359.8) scale(1.05,1) rotate(-45) scale(1,1.03)" font-size="32.3" text-anchor="end">TC</text>
<text transform="translate(909.9,1361) scale(1.05,1) rotate(-45) scale(1,1.03)" font-size="32.3" text-anchor="end">OXY</text>
<text transform="translate(961.9,1363.8) scale(1.05,1) rotate(-45) scale(1,1.03)" font-size="32.3" text-anchor="end">MOX</text>
<text transform="translate(1012.5,1363.2) scale(1.05,1) rotate(-45) scale(1,1.03)" font-size="32.3" text-anchor="end">CBZ</text>
<text transform="translate(1067.3,1356) scale(1.05,1) rotate(-45) scale(1,1.03)" font-size="32.3" text-anchor="end">OFL</text>
<text transform="translate(1135.8,1355.8) scale(1.05,1) rotate(-45) scale(1,1.03)" font-size="32.3" text-anchor="end"><tspan font-style="italic">p</tspan>-CBA</text>
<text transform="translate(1180.5,1357.2) scale(1.05,1) rotate(-45) scale(1,1.03)" font-size="32.3" text-anchor="end">BA</text>
<text transform="translate(1234.5,1359.9) scale(1.05,1) rotate(-45) scale(1,1.03)" font-size="32.3" text-anchor="end">NB</text>
<text transform="translate(671.8,1149) rotate(-90) scale(1,1.07)" font-size="32.4" text-anchor="middle">Removal efficiency (%)</text>
</g>
<g id="pi">
<text transform="translate(1283.3,977)" font-size="45" font-weight="bold">i</text>
<rect x="1393.93" y="1164.91" width="16.2" height="15.8" fill="#19A5A0"/>
<rect x="1398.06" y="1154.68" width="16.2" height="15.8" fill="#19A5A0"/>
<rect x="1402.19" y="1154.68" width="16.2" height="15.8" fill="#19A5A0"/>
<rect x="1406.32" y="1165.94" width="16.2" height="15.8" fill="#19A5A0"/>
<rect x="1410.46" y="1161.16" width="16.2" height="15.8" fill="#19A5A0"/>
<rect x="1414.59" y="1158.6" width="16.2" height="15.8" fill="#19A5A0"/>
<rect x="1418.72" y="1158.09" width="16.2" height="15.8" fill="#19A5A0"/>
<rect x="1422.85" y="1158.6" width="16.2" height="15.8" fill="#19A5A0"/>
<rect x="1426.98" y="1166.62" width="16.2" height="15.8" fill="#19A5A0"/>
<rect x="1431.11" y="1162.01" width="16.2" height="15.8" fill="#19A5A0"/>
<rect x="1435.24" y="1161.5" width="16.2" height="15.8" fill="#19A5A0"/>
<rect x="1439.37" y="1162.01" width="16.2" height="15.8" fill="#19A5A0"/>
<rect x="1443.5" y="1162.35" width="16.2" height="15.8" fill="#19A5A0"/>
<rect x="1447.63" y="1162.87" width="16.2" height="15.8" fill="#19A5A0"/>
<rect x="1451.77" y="1163.55" width="16.2" height="15.8" fill="#19A5A0"/>
<rect x="1472.42" y="1163.55" width="16.2" height="15.8" fill="#19A5A0"/>
<rect x="1493.08" y="1163.55" width="16.2" height="15.8" fill="#19A5A0"/>
<rect x="1513.73" y="1163.55" width="16.2" height="15.8" fill="#19A5A0"/>
<rect x="1534.39" y="1163.55" width="16.2" height="15.8" fill="#19A5A0"/>
<rect x="1555.04" y="1163.55" width="16.2" height="15.8" fill="#19A5A0"/>
<rect x="1575.7" y="1163.55" width="16.2" height="15.8" fill="#19A5A0"/>
<rect x="1596.35" y="1163.55" width="16.2" height="15.8" fill="#19A5A0"/>
<rect x="1617.01" y="1163.55" width="16.2" height="15.8" fill="#19A5A0"/>
<rect x="1637.66" y="1163.55" width="16.2" height="15.8" fill="#19A5A0"/>
<rect x="1658.32" y="1163.55" width="16.2" height="15.8" fill="#19A5A0"/>
<rect x="1678.97" y="1163.55" width="16.2" height="15.8" fill="#19A5A0"/>
<rect x="1699.63" y="1163.55" width="16.2" height="15.8" fill="#19A5A0"/>
<rect x="1720.28" y="1163.55" width="16.2" height="15.8" fill="#19A5A0"/>
<rect x="1740.94" y="1163.55" width="16.2" height="15.8" fill="#19A5A0"/>
<rect x="1761.59" y="1163.55" width="16.2" height="15.8" fill="#19A5A0"/>
<rect x="1782.25" y="1163.55" width="16.2" height="15.8" fill="#19A5A0"/>
<rect x="1802.9" y="1164.91" width="16.2" height="15.8" fill="#19A5A0"/>
<rect x="1823.56" y="1164.91" width="16.2" height="15.8" fill="#19A5A0"/>
<rect x="1844.21" y="1164.91" width="16.2" height="15.8" fill="#19A5A0"/>
<line x1="1797.71" y1="1007.4" x2="1803.63" y2="1015.51" stroke="#5F589C" stroke-width="5"/><line x1="1819.57" y1="1034.7" x2="1823.08" y2="1038.42" stroke="#5F589C" stroke-width="5"/><line x1="1837.03" y1="1058.8" x2="1846.94" y2="1079.6" stroke="#5F589C" stroke-width="5"/>
<ellipse cx="1402.03" cy="997.3" rx="9" ry="9" fill="url(#bp)"/>
<ellipse cx="1406.16" cy="997.3" rx="9" ry="9" fill="url(#bp)"/>
<ellipse cx="1410.29" cy="997.3" rx="9" ry="9" fill="url(#bp)"/>
<ellipse cx="1414.42" cy="997.3" rx="9" ry="9" fill="url(#bp)"/>
<ellipse cx="1418.56" cy="997.3" rx="9" ry="9" fill="url(#bp)"/>
<ellipse cx="1422.69" cy="997.3" rx="9" ry="9" fill="url(#bp)"/>
<ellipse cx="1426.82" cy="997.3" rx="9" ry="9" fill="url(#bp)"/>
<ellipse cx="1430.95" cy="997.3" rx="9" ry="9" fill="url(#bp)"/>
<ellipse cx="1435.08" cy="997.3" rx="9" ry="9" fill="url(#bp)"/>
<ellipse cx="1439.21" cy="997.3" rx="9" ry="9" fill="url(#bp)"/>
<ellipse cx="1443.34" cy="997.3" rx="9" ry="9" fill="url(#bp)"/>
<ellipse cx="1447.47" cy="997.3" rx="9" ry="9" fill="url(#bp)"/>
<ellipse cx="1451.6" cy="997.3" rx="9" ry="9" fill="url(#bp)"/>
<ellipse cx="1455.73" cy="997.3" rx="9" ry="9" fill="url(#bp)"/>
<ellipse cx="1459.87" cy="997.3" rx="9" ry="9" fill="url(#bp)"/>
<ellipse cx="1480.52" cy="997.3" rx="9" ry="9" fill="url(#bp)"/>
<ellipse cx="1501.18" cy="997.3" rx="9" ry="9" fill="url(#bp)"/>
<ellipse cx="1521.83" cy="997.3" rx="9" ry="9" fill="url(#bp)"/>
<ellipse cx="1542.49" cy="997.3" rx="9" ry="9" fill="url(#bp)"/>
<ellipse cx="1563.14" cy="997.3" rx="9" ry="9" fill="url(#bp)"/>
<ellipse cx="1583.8" cy="997.3" rx="9" ry="9" fill="url(#bp)"/>
<ellipse cx="1604.45" cy="997.3" rx="9" ry="9" fill="url(#bp)"/>
<ellipse cx="1625.11" cy="997.3" rx="9" ry="9" fill="url(#bp)"/>
<ellipse cx="1645.76" cy="997.3" rx="9" ry="9" fill="url(#bp)"/>
<ellipse cx="1666.41" cy="997.3" rx="9" ry="9" fill="url(#bp)"/>
<ellipse cx="1687.07" cy="997.3" rx="9" ry="9" fill="url(#bp)"/>
<ellipse cx="1707.73" cy="997.3" rx="9" ry="9" fill="url(#bp)"/>
<ellipse cx="1728.38" cy="997.3" rx="9" ry="9" fill="url(#bp)"/>
<ellipse cx="1749.04" cy="997.3" rx="9" ry="9" fill="url(#bp)"/>
<ellipse cx="1769.69" cy="997.3" rx="9" ry="9" fill="url(#bp)"/>
<ellipse cx="1790.35" cy="997.3" rx="9" ry="9" fill="url(#bp)"/>
<ellipse cx="1811" cy="1025.6" rx="9" ry="9" fill="url(#bp)"/>
<ellipse cx="1831.66" cy="1047.51" rx="9" ry="9" fill="url(#bp)"/>
<ellipse cx="1852.31" cy="1090.88" rx="9" ry="9" fill="url(#bp)"/>
<line x1="1388" y1="964.5" x2="1873.7" y2="964.5" stroke="#000" stroke-width="2.3"/>
<line x1="1387" y1="1340" x2="1874.7" y2="1340" stroke="#000" stroke-width="2.4"/>
<line x1="1388" y1="963.5" x2="1388" y2="1341" stroke="#5F589C" stroke-width="2.2"/>
<line x1="1873.7" y1="963.5" x2="1873.7" y2="1341" stroke="#19A5A0" stroke-width="2.2"/>
<line x1="1384.2" y1="1339.38" x2="1388" y2="1339.38" stroke="#5F589C" stroke-width="2.2"/>
<line x1="1380" y1="1316.55" x2="1388" y2="1316.55" stroke="#5F589C" stroke-width="2.2"/>
<text transform="translate(1374.5,1325.65) scale(1.04,1.03)" font-size="31.4" text-anchor="end" fill="#5F589C">30</text>
<line x1="1384.2" y1="1293.72" x2="1388" y2="1293.72" stroke="#5F589C" stroke-width="2.2"/>
<line x1="1380" y1="1270.9" x2="1388" y2="1270.9" stroke="#5F589C" stroke-width="2.2"/>
<text transform="translate(1374.5,1280) scale(1.04,1.03)" font-size="31.4" text-anchor="end" fill="#5F589C">40</text>
<line x1="1384.2" y1="1248.08" x2="1388" y2="1248.08" stroke="#5F589C" stroke-width="2.2"/>
<line x1="1380" y1="1225.25" x2="1388" y2="1225.25" stroke="#5F589C" stroke-width="2.2"/>
<text transform="translate(1374.5,1234.35) scale(1.04,1.03)" font-size="31.4" text-anchor="end" fill="#5F589C">50</text>
<line x1="1384.2" y1="1202.42" x2="1388" y2="1202.42" stroke="#5F589C" stroke-width="2.2"/>
<line x1="1380" y1="1179.6" x2="1388" y2="1179.6" stroke="#5F589C" stroke-width="2.2"/>
<text transform="translate(1374.5,1188.7) scale(1.04,1.03)" font-size="31.4" text-anchor="end" fill="#5F589C">60</text>
<line x1="1384.2" y1="1156.78" x2="1388" y2="1156.78" stroke="#5F589C" stroke-width="2.2"/>
<line x1="1380" y1="1133.95" x2="1388" y2="1133.95" stroke="#5F589C" stroke-width="2.2"/>
<text transform="translate(1374.5,1143.05) scale(1.04,1.03)" font-size="31.4" text-anchor="end" fill="#5F589C">70</text>
<line x1="1384.2" y1="1111.12" x2="1388" y2="1111.12" stroke="#5F589C" stroke-width="2.2"/>
<line x1="1380" y1="1088.3" x2="1388" y2="1088.3" stroke="#5F589C" stroke-width="2.2"/>
<text transform="translate(1374.5,1097.4) scale(1.04,1.03)" font-size="31.4" text-anchor="end" fill="#5F589C">80</text>
<line x1="1384.2" y1="1065.47" x2="1388" y2="1065.47" stroke="#5F589C" stroke-width="2.2"/>
<line x1="1380" y1="1042.65" x2="1388" y2="1042.65" stroke="#5F589C" stroke-width="2.2"/>
<text transform="translate(1374.5,1051.75) scale(1.04,1.03)" font-size="31.4" text-anchor="end" fill="#5F589C">90</text>
<line x1="1384.2" y1="1019.83" x2="1388" y2="1019.83" stroke="#5F589C" stroke-width="2.2"/>
<line x1="1380" y1="997" x2="1388" y2="997" stroke="#5F589C" stroke-width="2.2"/>
<text transform="translate(1374.5,1006.1) scale(1.04,1.03)" font-size="31.4" text-anchor="end" fill="#5F589C">100</text>
<line x1="1384.2" y1="974.17" x2="1388" y2="974.17" stroke="#5F589C" stroke-width="2.2"/>
<line x1="1873.7" y1="1305.5" x2="1880.7" y2="1305.5" stroke="#19A5A0" stroke-width="2.2"/>
<text transform="translate(1886.5,1315.1) scale(1.04,1.03)" font-size="31.4" fill="#19A5A0">50</text>
<line x1="1873.7" y1="1262.86" x2="1877.2" y2="1262.86" stroke="#19A5A0" stroke-width="2.2"/>
<line x1="1873.7" y1="1220.22" x2="1880.7" y2="1220.22" stroke="#19A5A0" stroke-width="2.2"/>
<text transform="translate(1886.5,1229.82) scale(1.04,1.03)" font-size="31.4" fill="#19A5A0">100</text>
<line x1="1873.7" y1="1177.59" x2="1877.2" y2="1177.59" stroke="#19A5A0" stroke-width="2.2"/>
<line x1="1873.7" y1="1134.95" x2="1880.7" y2="1134.95" stroke="#19A5A0" stroke-width="2.2"/>
<text transform="translate(1886.5,1144.55) scale(1.04,1.03)" font-size="31.4" fill="#19A5A0">150</text>
<line x1="1873.7" y1="1092.31" x2="1877.2" y2="1092.31" stroke="#19A5A0" stroke-width="2.2"/>
<line x1="1873.7" y1="1049.67" x2="1880.7" y2="1049.67" stroke="#19A5A0" stroke-width="2.2"/>
<text transform="translate(1886.5,1059.27) scale(1.04,1.03)" font-size="31.4" fill="#19A5A0">200</text>
<line x1="1873.7" y1="1007.04" x2="1877.2" y2="1007.04" stroke="#19A5A0" stroke-width="2.2"/>
<line x1="1873.7" y1="964.4" x2="1880.7" y2="964.4" stroke="#19A5A0" stroke-width="2.2"/>
<text transform="translate(1886.5,974) scale(1.04,1.03)" font-size="31.4" fill="#19A5A0">250</text>
<line x1="1397.9" y1="1340" x2="1397.9" y2="1347.5" stroke="#000" stroke-width="2"/>
<text transform="translate(1397.9,1376.8) scale(1.08,1.03)" font-size="31" text-anchor="middle">0</text>
<line x1="1439.21" y1="1340" x2="1439.21" y2="1343.7" stroke="#000" stroke-width="2"/>
<line x1="1480.52" y1="1340" x2="1480.52" y2="1347.5" stroke="#000" stroke-width="2"/>
<text transform="translate(1480.52,1376.8) scale(1.08,1.03)" font-size="31" text-anchor="middle">20</text>
<line x1="1521.83" y1="1340" x2="1521.83" y2="1343.7" stroke="#000" stroke-width="2"/>
<line x1="1563.14" y1="1340" x2="1563.14" y2="1347.5" stroke="#000" stroke-width="2"/>
<text transform="translate(1563.14,1376.8) scale(1.08,1.03)" font-size="31" text-anchor="middle">40</text>
<line x1="1604.45" y1="1340" x2="1604.45" y2="1343.7" stroke="#000" stroke-width="2"/>
<line x1="1645.76" y1="1340" x2="1645.76" y2="1347.5" stroke="#000" stroke-width="2"/>
<text transform="translate(1645.76,1376.8) scale(1.08,1.03)" font-size="31" text-anchor="middle">60</text>
<line x1="1687.07" y1="1340" x2="1687.07" y2="1343.7" stroke="#000" stroke-width="2"/>
<line x1="1728.38" y1="1340" x2="1728.38" y2="1347.5" stroke="#000" stroke-width="2"/>
<text transform="translate(1728.38,1376.8) scale(1.08,1.03)" font-size="31" text-anchor="middle">80</text>
<line x1="1769.69" y1="1340" x2="1769.69" y2="1343.7" stroke="#000" stroke-width="2"/>
<line x1="1811" y1="1340" x2="1811" y2="1347.5" stroke="#000" stroke-width="2"/>
<text transform="translate(1811,1376.8) scale(1.08,1.03)" font-size="31" text-anchor="middle">100</text>
<line x1="1852.31" y1="1340" x2="1852.31" y2="1343.7" stroke="#000" stroke-width="2"/>
<text transform="translate(1630,1412.6) scale(1.08,1.03)" font-size="31" text-anchor="middle">Time (h)</text>
<text transform="translate(1313.8,1150.5) rotate(-90) scale(1,1.07)" font-size="31.7" text-anchor="middle" fill="#5F589C">Removal efficiency (%)</text>
<text transform="translate(1971.8,1151) rotate(-90) scale(1,1.08)" font-size="31.8" text-anchor="middle" fill="#19A5A0">Permeability (LMHB)</text>
</g>
</svg>
</body></html>
